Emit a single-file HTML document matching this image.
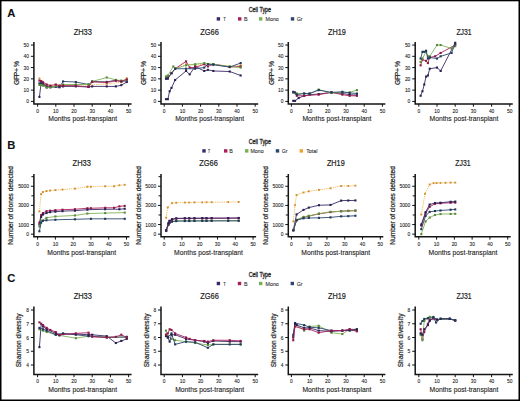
<!DOCTYPE html><html><head><meta charset="utf-8"><style>html,body{margin:0;padding:0;background:#fff;width:520px;height:401px;overflow:hidden}svg{display:block}</style></head><body>
<svg width="520" height="401" viewBox="0 0 520 401" font-family='"Liberation Sans", sans-serif'><style>text{stroke:#222;stroke-width:0.1px}</style>
<rect x="0" y="0" width="520" height="401" fill="#fff"/>
<g shape-rendering="crispEdges"><rect x="0" y="0" width="520" height="1" fill="#000"/><rect x="0" y="1" width="520" height="1" fill="#000" fill-opacity="0.3"/><rect x="0" y="0" width="1" height="401" fill="#000"/><rect x="1" y="0" width="1" height="401" fill="#000" fill-opacity="0.5"/><rect x="519" y="0" width="1" height="401" fill="#000"/><rect x="518" y="0" width="1" height="401" fill="#000" fill-opacity="0.5"/><rect x="0" y="400" width="520" height="1" fill="#000"/><rect x="0" y="399" width="520" height="1" fill="#000" fill-opacity="0.5"/></g>
<text x="7.3" y="16.6" font-size="11.2" fill="#111" font-weight="bold">A</text>
<text x="7.3" y="148.8" font-size="11.2" fill="#111" font-weight="bold">B</text>
<text x="7.3" y="282.4" font-size="11.2" fill="#111" font-weight="bold">C</text>
<text style="stroke-width:0.3px" x="259.9" y="12.1" font-size="6.6" fill="#222" text-anchor="middle" textLength="22.5" lengthAdjust="spacingAndGlyphs">Cell Type</text>
<rect x="216.7" y="17.2" width="3.4" height="3.4" fill="#3a2a68"/>
<text style="stroke-width:0.1px" x="223.3" y="21.1" font-size="6.2" fill="#333" textLength="2.6" lengthAdjust="spacingAndGlyphs">T</text>
<rect x="238" y="17.2" width="3.4" height="3.4" fill="#a8205a"/>
<text style="stroke-width:0.1px" x="244" y="21.1" font-size="6.2" fill="#333" textLength="3.6" lengthAdjust="spacingAndGlyphs">B</text>
<rect x="259" y="17.2" width="3.4" height="3.4" fill="#78b050"/>
<text style="stroke-width:0.1px" x="265.6" y="21.1" font-size="6.2" fill="#333" textLength="13.2" lengthAdjust="spacingAndGlyphs">Mono</text>
<rect x="290.8" y="17.2" width="3.4" height="3.4" fill="#2c4670"/>
<text style="stroke-width:0.1px" x="296.8" y="21.1" font-size="6.2" fill="#333" textLength="5.8" lengthAdjust="spacingAndGlyphs">Gr</text>
<text style="stroke-width:0.3px" x="259.9" y="143.8" font-size="6.6" fill="#222" text-anchor="middle" textLength="22.5" lengthAdjust="spacingAndGlyphs">Cell Type</text>
<rect x="202.3" y="149.2" width="3.4" height="3.4" fill="#3a2a68"/>
<text style="stroke-width:0.1px" x="207.8" y="153.1" font-size="6.2" fill="#333" textLength="2.6" lengthAdjust="spacingAndGlyphs">T</text>
<rect x="224" y="149.2" width="3.4" height="3.4" fill="#a8205a"/>
<text style="stroke-width:0.1px" x="229.2" y="153.1" font-size="6.2" fill="#333" textLength="3.6" lengthAdjust="spacingAndGlyphs">B</text>
<rect x="245" y="149.2" width="3.4" height="3.4" fill="#78b050"/>
<text style="stroke-width:0.1px" x="250.4" y="153.1" font-size="6.2" fill="#333" textLength="13.2" lengthAdjust="spacingAndGlyphs">Mono</text>
<rect x="275.8" y="149.2" width="3.4" height="3.4" fill="#2c4670"/>
<text style="stroke-width:0.1px" x="281.8" y="153.1" font-size="6.2" fill="#333" textLength="5.8" lengthAdjust="spacingAndGlyphs">Gr</text>
<rect x="299.6" y="149.2" width="3.4" height="3.4" fill="#f0a030"/>
<text style="stroke-width:0.1px" x="306.2" y="153.1" font-size="6.2" fill="#333" textLength="11.3" lengthAdjust="spacingAndGlyphs">Total</text>
<text style="stroke-width:0.3px" x="259.9" y="277" font-size="6.6" fill="#222" text-anchor="middle" textLength="22.5" lengthAdjust="spacingAndGlyphs">Cell Type</text>
<rect x="216.7" y="281.8" width="3.4" height="3.4" fill="#3a2a68"/>
<text style="stroke-width:0.1px" x="223.3" y="285.7" font-size="6.2" fill="#333" textLength="2.6" lengthAdjust="spacingAndGlyphs">T</text>
<rect x="237.8" y="281.8" width="3.4" height="3.4" fill="#a8205a"/>
<text style="stroke-width:0.1px" x="244" y="285.7" font-size="6.2" fill="#333" textLength="3.6" lengthAdjust="spacingAndGlyphs">B</text>
<rect x="259" y="281.8" width="3.4" height="3.4" fill="#78b050"/>
<text style="stroke-width:0.1px" x="265.6" y="285.7" font-size="6.2" fill="#333" textLength="13.2" lengthAdjust="spacingAndGlyphs">Mono</text>
<rect x="290.6" y="281.8" width="3.4" height="3.4" fill="#2c4670"/>
<text style="stroke-width:0.1px" x="296.8" y="285.7" font-size="6.2" fill="#333" textLength="5.8" lengthAdjust="spacingAndGlyphs">Gr</text>
<path d="M33.9 42V103.9H131.6" fill="none" stroke="#151515" stroke-width="1.5"/><path d="M30.9 101.4H33.9" stroke="#111" stroke-width="1"/><text transform="translate(29 103.4) scale(0.8 1)" font-size="6.1" fill="#222" text-anchor="end">0</text><path d="M30.9 90.13H33.9" stroke="#111" stroke-width="1"/><text transform="translate(29 92.13) scale(0.8 1)" font-size="6.1" fill="#222" text-anchor="end">10</text><path d="M30.9 78.86H33.9" stroke="#111" stroke-width="1"/><text transform="translate(29 80.86) scale(0.8 1)" font-size="6.1" fill="#222" text-anchor="end">20</text><path d="M30.9 67.59H33.9" stroke="#111" stroke-width="1"/><text transform="translate(29 69.59) scale(0.8 1)" font-size="6.1" fill="#222" text-anchor="end">30</text><path d="M30.9 56.32H33.9" stroke="#111" stroke-width="1"/><text transform="translate(29 58.32) scale(0.8 1)" font-size="6.1" fill="#222" text-anchor="end">40</text><path d="M30.9 45.05H33.9" stroke="#111" stroke-width="1"/><text transform="translate(29 47.05) scale(0.8 1)" font-size="6.1" fill="#222" text-anchor="end">50</text><path d="M37.6 103.9V106.7" stroke="#111" stroke-width="1"/><text transform="translate(37.6 113.3) scale(0.8 1)" font-size="6.1" fill="#222" text-anchor="middle">0</text><path d="M55.8 103.9V106.7" stroke="#111" stroke-width="1"/><text transform="translate(55.8 113.3) scale(0.8 1)" font-size="6.1" fill="#222" text-anchor="middle">10</text><path d="M74 103.9V106.7" stroke="#111" stroke-width="1"/><text transform="translate(74 113.3) scale(0.8 1)" font-size="6.1" fill="#222" text-anchor="middle">20</text><path d="M92.2 103.9V106.7" stroke="#111" stroke-width="1"/><text transform="translate(92.2 113.3) scale(0.8 1)" font-size="6.1" fill="#222" text-anchor="middle">30</text><path d="M110.4 103.9V106.7" stroke="#111" stroke-width="1"/><text transform="translate(110.4 113.3) scale(0.8 1)" font-size="6.1" fill="#222" text-anchor="middle">40</text><path d="M128.6 103.9V106.7" stroke="#111" stroke-width="1"/><text transform="translate(128.6 113.3) scale(0.8 1)" font-size="6.1" fill="#222" text-anchor="middle">50</text><text style="stroke-width:0.2px" x="82.75" y="34.9" font-size="8.6" fill="#1a1a1a" text-anchor="middle" textLength="18.2" lengthAdjust="spacingAndGlyphs">ZH33</text><text style="stroke-width:0.12px" transform="translate(82.76 121) scale(0.9 1)" font-size="7.5" fill="#222" text-anchor="middle" letter-spacing="0.017">Months post-transplant</text><text style="stroke-width:0.22px" transform="translate(19 72.95) rotate(-90) translate(-0.20 0) scale(0.92 1)" font-size="7.4" fill="#222" text-anchor="middle" letter-spacing="-0.438">GFP+ %</text><path d="M39.42 78.41 L41.24 81.11 L43.06 83.37 L46.7 85.06 L55.8 85.06 L75.82 84.72 L88.56 85.06 L106.76 83.93 L121.32 82.24 L126.78 78.18" fill="none" stroke="#f2b850" stroke-width="0.9" stroke-linejoin="round" stroke-dasharray="1.3 0.9"/><rect x="38.47" y="77.46" width="1.9" height="1.9" fill="#d09030"/><rect x="40.29" y="80.16" width="1.9" height="1.9" fill="#d09030"/><rect x="42.11" y="82.42" width="1.9" height="1.9" fill="#d09030"/><rect x="45.75" y="84.11" width="1.9" height="1.9" fill="#d09030"/><rect x="54.85" y="84.11" width="1.9" height="1.9" fill="#d09030"/><rect x="74.87" y="83.77" width="1.9" height="1.9" fill="#d09030"/><rect x="87.61" y="84.11" width="1.9" height="1.9" fill="#d09030"/><rect x="105.81" y="82.98" width="1.9" height="1.9" fill="#d09030"/><rect x="120.37" y="81.29" width="1.9" height="1.9" fill="#d09030"/><rect x="125.83" y="77.23" width="1.9" height="1.9" fill="#d09030"/><path d="M39.42 96.89 L41.24 82.24 L43.06 83.37 L46.7 86.75 L50.34 86.75 L55.8 86.75 L59.44 86.75 L63.08 86.41 L75.82 86.41 L88.56 86.97 L92.2 86.41 L106.76 86.41 L115.86 86.41 L121.32 85.17 L126.78 82.02" fill="none" stroke="#3a2a68" stroke-width="0.9" stroke-linejoin="round"/><rect x="38.37" y="95.84" width="2.1" height="2.1" fill="#2a1e50"/><rect x="40.19" y="81.19" width="2.1" height="2.1" fill="#2a1e50"/><rect x="42.01" y="82.32" width="2.1" height="2.1" fill="#2a1e50"/><rect x="45.65" y="85.7" width="2.1" height="2.1" fill="#2a1e50"/><rect x="49.29" y="85.7" width="2.1" height="2.1" fill="#2a1e50"/><rect x="54.75" y="85.7" width="2.1" height="2.1" fill="#2a1e50"/><rect x="58.39" y="85.7" width="2.1" height="2.1" fill="#2a1e50"/><rect x="62.03" y="85.36" width="2.1" height="2.1" fill="#2a1e50"/><rect x="74.77" y="85.36" width="2.1" height="2.1" fill="#2a1e50"/><rect x="87.51" y="85.92" width="2.1" height="2.1" fill="#2a1e50"/><rect x="91.15" y="85.36" width="2.1" height="2.1" fill="#2a1e50"/><rect x="105.71" y="85.36" width="2.1" height="2.1" fill="#2a1e50"/><rect x="114.81" y="85.36" width="2.1" height="2.1" fill="#2a1e50"/><rect x="120.27" y="84.12" width="2.1" height="2.1" fill="#2a1e50"/><rect x="125.73" y="80.97" width="2.1" height="2.1" fill="#2a1e50"/><path d="M39.42 83.37 L41.24 82.8 L43.06 84.5 L46.7 87.31 L50.34 87.31 L55.8 86.75 L59.44 87.31 L63.08 81.45 L75.82 82.02 L88.56 84.5 L92.2 81.45 L106.76 81.9 L115.86 80.21 L121.32 81.45 L126.78 80.78" fill="none" stroke="#2c4670" stroke-width="0.9" stroke-linejoin="round"/><rect x="38.37" y="82.32" width="2.1" height="2.1" fill="#203858"/><rect x="40.19" y="81.75" width="2.1" height="2.1" fill="#203858"/><rect x="42.01" y="83.45" width="2.1" height="2.1" fill="#203858"/><rect x="45.65" y="86.26" width="2.1" height="2.1" fill="#203858"/><rect x="49.29" y="86.26" width="2.1" height="2.1" fill="#203858"/><rect x="54.75" y="85.7" width="2.1" height="2.1" fill="#203858"/><rect x="58.39" y="86.26" width="2.1" height="2.1" fill="#203858"/><rect x="62.03" y="80.4" width="2.1" height="2.1" fill="#203858"/><rect x="74.77" y="80.97" width="2.1" height="2.1" fill="#203858"/><rect x="87.51" y="83.45" width="2.1" height="2.1" fill="#203858"/><rect x="91.15" y="80.4" width="2.1" height="2.1" fill="#203858"/><rect x="105.71" y="80.85" width="2.1" height="2.1" fill="#203858"/><rect x="114.81" y="79.16" width="2.1" height="2.1" fill="#203858"/><rect x="120.27" y="80.4" width="2.1" height="2.1" fill="#203858"/><rect x="125.73" y="79.73" width="2.1" height="2.1" fill="#203858"/><path d="M39.42 84.95 L41.24 85.06 L43.06 85.62 L46.7 87.65 L50.34 87.31 L55.8 86.19 L63.08 84.5 L75.82 84.5 L88.56 84.5 L92.2 81.45 L106.76 77.51 L115.86 79.87 L121.32 80.55 L126.78 79.99" fill="none" stroke="#80b458" stroke-width="0.9" stroke-linejoin="round"/><rect x="38.37" y="83.9" width="2.1" height="2.1" fill="#5a8a3a"/><rect x="40.19" y="84.01" width="2.1" height="2.1" fill="#5a8a3a"/><rect x="42.01" y="84.57" width="2.1" height="2.1" fill="#5a8a3a"/><rect x="45.65" y="86.6" width="2.1" height="2.1" fill="#5a8a3a"/><rect x="49.29" y="86.26" width="2.1" height="2.1" fill="#5a8a3a"/><rect x="54.75" y="85.14" width="2.1" height="2.1" fill="#5a8a3a"/><rect x="62.03" y="83.45" width="2.1" height="2.1" fill="#5a8a3a"/><rect x="74.77" y="83.45" width="2.1" height="2.1" fill="#5a8a3a"/><rect x="87.51" y="83.45" width="2.1" height="2.1" fill="#5a8a3a"/><rect x="91.15" y="80.4" width="2.1" height="2.1" fill="#5a8a3a"/><rect x="105.71" y="76.46" width="2.1" height="2.1" fill="#5a8a3a"/><rect x="114.81" y="78.82" width="2.1" height="2.1" fill="#5a8a3a"/><rect x="120.27" y="79.5" width="2.1" height="2.1" fill="#5a8a3a"/><rect x="125.73" y="78.94" width="2.1" height="2.1" fill="#5a8a3a"/><path d="M39.42 80.55 L41.24 81.11 L43.06 82.24 L46.7 84.5 L50.34 85.62 L55.8 84.5 L59.44 85.62 L63.08 85.62 L75.82 85.62 L88.56 86.97 L92.2 81.9 L106.76 82.47 L115.86 80.78 L121.32 81.34 L126.78 79.42" fill="none" stroke="#a8205a" stroke-width="0.9" stroke-linejoin="round"/><rect x="38.37" y="79.5" width="2.1" height="2.1" fill="#8a1848"/><rect x="40.19" y="80.06" width="2.1" height="2.1" fill="#8a1848"/><rect x="42.01" y="81.19" width="2.1" height="2.1" fill="#8a1848"/><rect x="45.65" y="83.45" width="2.1" height="2.1" fill="#8a1848"/><rect x="49.29" y="84.57" width="2.1" height="2.1" fill="#8a1848"/><rect x="54.75" y="83.45" width="2.1" height="2.1" fill="#8a1848"/><rect x="58.39" y="84.57" width="2.1" height="2.1" fill="#8a1848"/><rect x="62.03" y="84.57" width="2.1" height="2.1" fill="#8a1848"/><rect x="74.77" y="84.57" width="2.1" height="2.1" fill="#8a1848"/><rect x="87.51" y="85.92" width="2.1" height="2.1" fill="#8a1848"/><rect x="91.15" y="80.85" width="2.1" height="2.1" fill="#8a1848"/><rect x="105.71" y="81.42" width="2.1" height="2.1" fill="#8a1848"/><rect x="114.81" y="79.73" width="2.1" height="2.1" fill="#8a1848"/><rect x="120.27" y="80.29" width="2.1" height="2.1" fill="#8a1848"/><rect x="125.73" y="78.37" width="2.1" height="2.1" fill="#8a1848"/>
<path d="M161 42V103.9H258.2" fill="none" stroke="#151515" stroke-width="1.5"/><path d="M158 101.4H161" stroke="#111" stroke-width="1"/><text transform="translate(156.1 103.4) scale(0.8 1)" font-size="6.1" fill="#222" text-anchor="end">0</text><path d="M158 90.13H161" stroke="#111" stroke-width="1"/><text transform="translate(156.1 92.13) scale(0.8 1)" font-size="6.1" fill="#222" text-anchor="end">10</text><path d="M158 78.86H161" stroke="#111" stroke-width="1"/><text transform="translate(156.1 80.86) scale(0.8 1)" font-size="6.1" fill="#222" text-anchor="end">20</text><path d="M158 67.59H161" stroke="#111" stroke-width="1"/><text transform="translate(156.1 69.59) scale(0.8 1)" font-size="6.1" fill="#222" text-anchor="end">30</text><path d="M158 56.32H161" stroke="#111" stroke-width="1"/><text transform="translate(156.1 58.32) scale(0.8 1)" font-size="6.1" fill="#222" text-anchor="end">40</text><path d="M158 45.05H161" stroke="#111" stroke-width="1"/><text transform="translate(156.1 47.05) scale(0.8 1)" font-size="6.1" fill="#222" text-anchor="end">50</text><path d="M164.2 103.9V106.7" stroke="#111" stroke-width="1"/><text transform="translate(164.2 113.3) scale(0.8 1)" font-size="6.1" fill="#222" text-anchor="middle">0</text><path d="M182.4 103.9V106.7" stroke="#111" stroke-width="1"/><text transform="translate(182.4 113.3) scale(0.8 1)" font-size="6.1" fill="#222" text-anchor="middle">10</text><path d="M200.6 103.9V106.7" stroke="#111" stroke-width="1"/><text transform="translate(200.6 113.3) scale(0.8 1)" font-size="6.1" fill="#222" text-anchor="middle">20</text><path d="M218.8 103.9V106.7" stroke="#111" stroke-width="1"/><text transform="translate(218.8 113.3) scale(0.8 1)" font-size="6.1" fill="#222" text-anchor="middle">30</text><path d="M237 103.9V106.7" stroke="#111" stroke-width="1"/><text transform="translate(237 113.3) scale(0.8 1)" font-size="6.1" fill="#222" text-anchor="middle">40</text><path d="M255.2 103.9V106.7" stroke="#111" stroke-width="1"/><text transform="translate(255.2 113.3) scale(0.8 1)" font-size="6.1" fill="#222" text-anchor="middle">50</text><text style="stroke-width:0.2px" x="209.6" y="34.9" font-size="8.6" fill="#1a1a1a" text-anchor="middle" textLength="18.6" lengthAdjust="spacingAndGlyphs">ZG66</text><text style="stroke-width:0.12px" transform="translate(209.61 121) scale(0.9 1)" font-size="7.5" fill="#222" text-anchor="middle" letter-spacing="0.017">Months post-transplant</text><text style="stroke-width:0.22px" transform="translate(146.4 72.95) rotate(-90) translate(-0.20 0) scale(0.92 1)" font-size="7.4" fill="#222" text-anchor="middle" letter-spacing="-0.438">GFP+ %</text><path d="M166.02 76.61 L167.84 77.73 L171.48 73.23 L175.12 68.72 L186.04 64.21 L195.14 65.34 L204.24 64.21 L213.34 64.21 L229.72 66.46 L240.64 65.34" fill="none" stroke="#f2b850" stroke-width="0.9" stroke-linejoin="round" stroke-dasharray="1.3 0.9"/><rect x="165.07" y="75.66" width="1.9" height="1.9" fill="#d09030"/><rect x="166.89" y="76.78" width="1.9" height="1.9" fill="#d09030"/><rect x="170.53" y="72.28" width="1.9" height="1.9" fill="#d09030"/><rect x="174.17" y="67.77" width="1.9" height="1.9" fill="#d09030"/><rect x="185.09" y="63.26" width="1.9" height="1.9" fill="#d09030"/><rect x="194.19" y="64.39" width="1.9" height="1.9" fill="#d09030"/><rect x="203.29" y="63.26" width="1.9" height="1.9" fill="#d09030"/><rect x="212.39" y="63.26" width="1.9" height="1.9" fill="#d09030"/><rect x="228.77" y="65.51" width="1.9" height="1.9" fill="#d09030"/><rect x="239.69" y="64.39" width="1.9" height="1.9" fill="#d09030"/><path d="M166.02 99.15 L167.84 99.15 L169.66 91.26 L171.48 87.88 L175.12 79.99 L186.04 70.97 L189.68 74.35 L195.14 66.46 L204.24 70.97 L207.88 69.84 L213.34 70.97 L229.72 71.53 L240.64 75.48" fill="none" stroke="#3a2a68" stroke-width="0.9" stroke-linejoin="round"/><rect x="164.97" y="98.1" width="2.1" height="2.1" fill="#2a1e50"/><rect x="166.79" y="98.1" width="2.1" height="2.1" fill="#2a1e50"/><rect x="168.61" y="90.21" width="2.1" height="2.1" fill="#2a1e50"/><rect x="170.43" y="86.83" width="2.1" height="2.1" fill="#2a1e50"/><rect x="174.07" y="78.94" width="2.1" height="2.1" fill="#2a1e50"/><rect x="184.99" y="69.92" width="2.1" height="2.1" fill="#2a1e50"/><rect x="188.63" y="73.3" width="2.1" height="2.1" fill="#2a1e50"/><rect x="194.09" y="65.41" width="2.1" height="2.1" fill="#2a1e50"/><rect x="203.19" y="69.92" width="2.1" height="2.1" fill="#2a1e50"/><rect x="206.83" y="68.79" width="2.1" height="2.1" fill="#2a1e50"/><rect x="212.29" y="69.92" width="2.1" height="2.1" fill="#2a1e50"/><rect x="228.67" y="70.48" width="2.1" height="2.1" fill="#2a1e50"/><rect x="239.59" y="74.43" width="2.1" height="2.1" fill="#2a1e50"/><path d="M166.02 77.73 L167.84 78.86 L171.48 73.23 L175.12 68.72 L186.04 61.39 L189.68 67.59 L195.14 67.59 L204.24 64.21 L207.88 66.46 L213.34 64.21 L229.72 67.03 L240.64 66.46" fill="none" stroke="#a8205a" stroke-width="0.9" stroke-linejoin="round"/><rect x="164.97" y="76.68" width="2.1" height="2.1" fill="#8a1848"/><rect x="166.79" y="77.81" width="2.1" height="2.1" fill="#8a1848"/><rect x="170.43" y="72.18" width="2.1" height="2.1" fill="#8a1848"/><rect x="174.07" y="67.67" width="2.1" height="2.1" fill="#8a1848"/><rect x="184.99" y="60.34" width="2.1" height="2.1" fill="#8a1848"/><rect x="188.63" y="66.54" width="2.1" height="2.1" fill="#8a1848"/><rect x="194.09" y="66.54" width="2.1" height="2.1" fill="#8a1848"/><rect x="203.19" y="63.16" width="2.1" height="2.1" fill="#8a1848"/><rect x="206.83" y="65.41" width="2.1" height="2.1" fill="#8a1848"/><rect x="212.29" y="63.16" width="2.1" height="2.1" fill="#8a1848"/><rect x="228.67" y="65.98" width="2.1" height="2.1" fill="#8a1848"/><rect x="239.59" y="65.41" width="2.1" height="2.1" fill="#8a1848"/><path d="M166.02 76.61 L167.84 75.48 L173.3 66.46 L175.12 68.72 L186.04 65.34 L195.14 64.21 L204.24 63.08 L213.34 64.21 L229.72 66.46 L240.64 67.59" fill="none" stroke="#80b458" stroke-width="0.9" stroke-linejoin="round"/><rect x="164.97" y="75.56" width="2.1" height="2.1" fill="#5a8a3a"/><rect x="166.79" y="74.43" width="2.1" height="2.1" fill="#5a8a3a"/><rect x="172.25" y="65.41" width="2.1" height="2.1" fill="#5a8a3a"/><rect x="174.07" y="67.67" width="2.1" height="2.1" fill="#5a8a3a"/><rect x="184.99" y="64.29" width="2.1" height="2.1" fill="#5a8a3a"/><rect x="194.09" y="63.16" width="2.1" height="2.1" fill="#5a8a3a"/><rect x="203.19" y="62.03" width="2.1" height="2.1" fill="#5a8a3a"/><rect x="212.29" y="63.16" width="2.1" height="2.1" fill="#5a8a3a"/><rect x="228.67" y="65.41" width="2.1" height="2.1" fill="#5a8a3a"/><rect x="239.59" y="66.54" width="2.1" height="2.1" fill="#5a8a3a"/><path d="M166.02 78.86 L167.84 77.73 L171.48 73.23 L175.12 68.72 L186.04 68.72 L195.14 68.72 L204.24 67.59 L207.88 64.21 L213.34 64.77 L229.72 67.03 L240.64 63.08" fill="none" stroke="#2c4670" stroke-width="0.9" stroke-linejoin="round"/><rect x="164.97" y="77.81" width="2.1" height="2.1" fill="#203858"/><rect x="166.79" y="76.68" width="2.1" height="2.1" fill="#203858"/><rect x="170.43" y="72.18" width="2.1" height="2.1" fill="#203858"/><rect x="174.07" y="67.67" width="2.1" height="2.1" fill="#203858"/><rect x="184.99" y="67.67" width="2.1" height="2.1" fill="#203858"/><rect x="194.09" y="67.67" width="2.1" height="2.1" fill="#203858"/><rect x="203.19" y="66.54" width="2.1" height="2.1" fill="#203858"/><rect x="206.83" y="63.16" width="2.1" height="2.1" fill="#203858"/><rect x="212.29" y="63.72" width="2.1" height="2.1" fill="#203858"/><rect x="228.67" y="65.98" width="2.1" height="2.1" fill="#203858"/><rect x="239.59" y="62.03" width="2.1" height="2.1" fill="#203858"/>
<path d="M288.3 42V103.9H385.4" fill="none" stroke="#151515" stroke-width="1.5"/><path d="M285.3 101.4H288.3" stroke="#111" stroke-width="1"/><text transform="translate(283.4 103.4) scale(0.8 1)" font-size="6.1" fill="#222" text-anchor="end">0</text><path d="M285.3 90.13H288.3" stroke="#111" stroke-width="1"/><text transform="translate(283.4 92.13) scale(0.8 1)" font-size="6.1" fill="#222" text-anchor="end">10</text><path d="M285.3 78.86H288.3" stroke="#111" stroke-width="1"/><text transform="translate(283.4 80.86) scale(0.8 1)" font-size="6.1" fill="#222" text-anchor="end">20</text><path d="M285.3 67.59H288.3" stroke="#111" stroke-width="1"/><text transform="translate(283.4 69.59) scale(0.8 1)" font-size="6.1" fill="#222" text-anchor="end">30</text><path d="M285.3 56.32H288.3" stroke="#111" stroke-width="1"/><text transform="translate(283.4 58.32) scale(0.8 1)" font-size="6.1" fill="#222" text-anchor="end">40</text><path d="M285.3 45.05H288.3" stroke="#111" stroke-width="1"/><text transform="translate(283.4 47.05) scale(0.8 1)" font-size="6.1" fill="#222" text-anchor="end">50</text><path d="M291.4 103.9V106.7" stroke="#111" stroke-width="1"/><text transform="translate(291.4 113.3) scale(0.8 1)" font-size="6.1" fill="#222" text-anchor="middle">0</text><path d="M309.6 103.9V106.7" stroke="#111" stroke-width="1"/><text transform="translate(309.6 113.3) scale(0.8 1)" font-size="6.1" fill="#222" text-anchor="middle">10</text><path d="M327.8 103.9V106.7" stroke="#111" stroke-width="1"/><text transform="translate(327.8 113.3) scale(0.8 1)" font-size="6.1" fill="#222" text-anchor="middle">20</text><path d="M346 103.9V106.7" stroke="#111" stroke-width="1"/><text transform="translate(346 113.3) scale(0.8 1)" font-size="6.1" fill="#222" text-anchor="middle">30</text><path d="M364.2 103.9V106.7" stroke="#111" stroke-width="1"/><text transform="translate(364.2 113.3) scale(0.8 1)" font-size="6.1" fill="#222" text-anchor="middle">40</text><path d="M382.4 103.9V106.7" stroke="#111" stroke-width="1"/><text transform="translate(382.4 113.3) scale(0.8 1)" font-size="6.1" fill="#222" text-anchor="middle">50</text><text style="stroke-width:0.2px" x="336.85" y="34.9" font-size="8.6" fill="#1a1a1a" text-anchor="middle" textLength="17.8" lengthAdjust="spacingAndGlyphs">ZH19</text><text style="stroke-width:0.12px" transform="translate(336.86 121) scale(0.9 1)" font-size="7.5" fill="#222" text-anchor="middle" letter-spacing="0.017">Months post-transplant</text><text style="stroke-width:0.22px" transform="translate(273.5 72.95) rotate(-90) translate(-0.20 0) scale(0.92 1)" font-size="7.4" fill="#222" text-anchor="middle" letter-spacing="-0.438">GFP+ %</text><path d="M293.22 100.84 L295.04 100.84 L298.68 98.02 L304.14 95.77 L309.6 94.64 L318.7 94.07 L331.44 92.38 L342.36 93.51 L349.64 94.64 L356.92 95.2" fill="none" stroke="#3a2a68" stroke-width="0.9" stroke-linejoin="round"/><rect x="292.17" y="99.79" width="2.1" height="2.1" fill="#2a1e50"/><rect x="293.99" y="99.79" width="2.1" height="2.1" fill="#2a1e50"/><rect x="297.63" y="96.97" width="2.1" height="2.1" fill="#2a1e50"/><rect x="303.09" y="94.72" width="2.1" height="2.1" fill="#2a1e50"/><rect x="308.55" y="93.59" width="2.1" height="2.1" fill="#2a1e50"/><rect x="317.65" y="93.02" width="2.1" height="2.1" fill="#2a1e50"/><rect x="330.39" y="91.33" width="2.1" height="2.1" fill="#2a1e50"/><rect x="341.31" y="92.46" width="2.1" height="2.1" fill="#2a1e50"/><rect x="348.59" y="93.59" width="2.1" height="2.1" fill="#2a1e50"/><rect x="355.87" y="94.15" width="2.1" height="2.1" fill="#2a1e50"/><path d="M293.22 92.38 L296.86 95.77 L304.14 95.77 L318.7 94.64 L331.44 92.38 L342.36 94.64 L349.64 95.77 L356.92 95.77" fill="none" stroke="#a8205a" stroke-width="0.9" stroke-linejoin="round"/><rect x="292.17" y="91.33" width="2.1" height="2.1" fill="#8a1848"/><rect x="295.81" y="94.72" width="2.1" height="2.1" fill="#8a1848"/><rect x="303.09" y="94.72" width="2.1" height="2.1" fill="#8a1848"/><rect x="317.65" y="93.59" width="2.1" height="2.1" fill="#8a1848"/><rect x="330.39" y="91.33" width="2.1" height="2.1" fill="#8a1848"/><rect x="341.31" y="93.59" width="2.1" height="2.1" fill="#8a1848"/><rect x="348.59" y="94.72" width="2.1" height="2.1" fill="#8a1848"/><rect x="355.87" y="94.72" width="2.1" height="2.1" fill="#8a1848"/><path d="M293.22 92.38 L296.86 93.51 L304.14 93.51 L309.6 93.51 L318.7 89.57 L331.44 92.95 L342.36 92.38 L349.64 92.38 L356.92 90.13" fill="none" stroke="#80b458" stroke-width="0.9" stroke-linejoin="round"/><rect x="292.17" y="91.33" width="2.1" height="2.1" fill="#5a8a3a"/><rect x="295.81" y="92.46" width="2.1" height="2.1" fill="#5a8a3a"/><rect x="303.09" y="92.46" width="2.1" height="2.1" fill="#5a8a3a"/><rect x="308.55" y="92.46" width="2.1" height="2.1" fill="#5a8a3a"/><rect x="317.65" y="88.52" width="2.1" height="2.1" fill="#5a8a3a"/><rect x="330.39" y="91.9" width="2.1" height="2.1" fill="#5a8a3a"/><rect x="341.31" y="91.33" width="2.1" height="2.1" fill="#5a8a3a"/><rect x="348.59" y="91.33" width="2.1" height="2.1" fill="#5a8a3a"/><rect x="355.87" y="89.08" width="2.1" height="2.1" fill="#5a8a3a"/><path d="M293.22 91.82 L295.04 92.38 L296.86 94.64 L304.14 93.51 L309.6 93.51 L318.7 90.13 L331.44 92.38 L342.36 91.82 L349.64 92.95 L356.92 93.51" fill="none" stroke="#2c4670" stroke-width="0.9" stroke-linejoin="round"/><rect x="292.17" y="90.77" width="2.1" height="2.1" fill="#203858"/><rect x="293.99" y="91.33" width="2.1" height="2.1" fill="#203858"/><rect x="295.81" y="93.59" width="2.1" height="2.1" fill="#203858"/><rect x="303.09" y="92.46" width="2.1" height="2.1" fill="#203858"/><rect x="308.55" y="92.46" width="2.1" height="2.1" fill="#203858"/><rect x="317.65" y="89.08" width="2.1" height="2.1" fill="#203858"/><rect x="330.39" y="91.33" width="2.1" height="2.1" fill="#203858"/><rect x="341.31" y="90.77" width="2.1" height="2.1" fill="#203858"/><rect x="348.59" y="91.9" width="2.1" height="2.1" fill="#203858"/><rect x="355.87" y="92.46" width="2.1" height="2.1" fill="#203858"/>
<path d="M415.2 42V103.9H512.8" fill="none" stroke="#151515" stroke-width="1.5"/><path d="M412.2 101.4H415.2" stroke="#111" stroke-width="1"/><text transform="translate(410.3 103.4) scale(0.8 1)" font-size="6.1" fill="#222" text-anchor="end">0</text><path d="M412.2 90.13H415.2" stroke="#111" stroke-width="1"/><text transform="translate(410.3 92.13) scale(0.8 1)" font-size="6.1" fill="#222" text-anchor="end">10</text><path d="M412.2 78.86H415.2" stroke="#111" stroke-width="1"/><text transform="translate(410.3 80.86) scale(0.8 1)" font-size="6.1" fill="#222" text-anchor="end">20</text><path d="M412.2 67.59H415.2" stroke="#111" stroke-width="1"/><text transform="translate(410.3 69.59) scale(0.8 1)" font-size="6.1" fill="#222" text-anchor="end">30</text><path d="M412.2 56.32H415.2" stroke="#111" stroke-width="1"/><text transform="translate(410.3 58.32) scale(0.8 1)" font-size="6.1" fill="#222" text-anchor="end">40</text><path d="M412.2 45.05H415.2" stroke="#111" stroke-width="1"/><text transform="translate(410.3 47.05) scale(0.8 1)" font-size="6.1" fill="#222" text-anchor="end">50</text><path d="M418.8 103.9V106.7" stroke="#111" stroke-width="1"/><text transform="translate(418.8 113.3) scale(0.8 1)" font-size="6.1" fill="#222" text-anchor="middle">0</text><path d="M437 103.9V106.7" stroke="#111" stroke-width="1"/><text transform="translate(437 113.3) scale(0.8 1)" font-size="6.1" fill="#222" text-anchor="middle">10</text><path d="M455.2 103.9V106.7" stroke="#111" stroke-width="1"/><text transform="translate(455.2 113.3) scale(0.8 1)" font-size="6.1" fill="#222" text-anchor="middle">20</text><path d="M473.4 103.9V106.7" stroke="#111" stroke-width="1"/><text transform="translate(473.4 113.3) scale(0.8 1)" font-size="6.1" fill="#222" text-anchor="middle">30</text><path d="M491.6 103.9V106.7" stroke="#111" stroke-width="1"/><text transform="translate(491.6 113.3) scale(0.8 1)" font-size="6.1" fill="#222" text-anchor="middle">40</text><path d="M509.8 103.9V106.7" stroke="#111" stroke-width="1"/><text transform="translate(509.8 113.3) scale(0.8 1)" font-size="6.1" fill="#222" text-anchor="middle">50</text><text style="stroke-width:0.2px" x="464" y="34.9" font-size="8.6" fill="#1a1a1a" text-anchor="middle" textLength="15.2" lengthAdjust="spacingAndGlyphs">ZJ31</text><text style="stroke-width:0.12px" transform="translate(464.01 121) scale(0.9 1)" font-size="7.5" fill="#222" text-anchor="middle" letter-spacing="0.017">Months post-transplant</text><text style="stroke-width:0.22px" transform="translate(400.4 72.95) rotate(-90) translate(-0.20 0) scale(0.92 1)" font-size="7.4" fill="#222" text-anchor="middle" letter-spacing="-0.438">GFP+ %</text><path d="M420.62 95.77 L422.44 91.26 L424.26 84.5 L426.08 76.61 L427.9 75.48 L429.72 68.72 L437 67.59 L440.64 70.97 L455.2 42.8" fill="none" stroke="#3a2a68" stroke-width="0.9" stroke-linejoin="round"/><rect x="419.57" y="94.72" width="2.1" height="2.1" fill="#2a1e50"/><rect x="421.39" y="90.21" width="2.1" height="2.1" fill="#2a1e50"/><rect x="423.21" y="83.45" width="2.1" height="2.1" fill="#2a1e50"/><rect x="425.03" y="75.56" width="2.1" height="2.1" fill="#2a1e50"/><rect x="426.85" y="74.43" width="2.1" height="2.1" fill="#2a1e50"/><rect x="428.67" y="67.67" width="2.1" height="2.1" fill="#2a1e50"/><rect x="435.95" y="66.54" width="2.1" height="2.1" fill="#2a1e50"/><rect x="439.59" y="69.92" width="2.1" height="2.1" fill="#2a1e50"/><rect x="454.15" y="41.75" width="2.1" height="2.1" fill="#2a1e50"/><path d="M420.62 65.34 L422.44 59.7 L426.08 60.83 L427.9 63.08 L429.72 57.45 L435.18 56.32 L440.64 52.94 L455.2 45.05" fill="none" stroke="#a8205a" stroke-width="0.9" stroke-linejoin="round"/><rect x="419.57" y="64.29" width="2.1" height="2.1" fill="#8a1848"/><rect x="421.39" y="58.65" width="2.1" height="2.1" fill="#8a1848"/><rect x="425.03" y="59.78" width="2.1" height="2.1" fill="#8a1848"/><rect x="426.85" y="62.03" width="2.1" height="2.1" fill="#8a1848"/><rect x="428.67" y="56.4" width="2.1" height="2.1" fill="#8a1848"/><rect x="434.13" y="55.27" width="2.1" height="2.1" fill="#8a1848"/><rect x="439.59" y="51.89" width="2.1" height="2.1" fill="#8a1848"/><rect x="454.15" y="44" width="2.1" height="2.1" fill="#8a1848"/><path d="M420.62 61.96 L422.44 58.57 L426.08 51.81 L427.9 56.32 L429.72 56.32 L437 45.05 L440.64 45.05 L451.56 48.43 L455.2 46.18" fill="none" stroke="#80b458" stroke-width="0.9" stroke-linejoin="round"/><rect x="419.57" y="60.91" width="2.1" height="2.1" fill="#5a8a3a"/><rect x="421.39" y="57.52" width="2.1" height="2.1" fill="#5a8a3a"/><rect x="425.03" y="50.76" width="2.1" height="2.1" fill="#5a8a3a"/><rect x="426.85" y="55.27" width="2.1" height="2.1" fill="#5a8a3a"/><rect x="428.67" y="55.27" width="2.1" height="2.1" fill="#5a8a3a"/><rect x="435.95" y="44" width="2.1" height="2.1" fill="#5a8a3a"/><rect x="439.59" y="44" width="2.1" height="2.1" fill="#5a8a3a"/><rect x="450.51" y="47.38" width="2.1" height="2.1" fill="#5a8a3a"/><rect x="454.15" y="45.13" width="2.1" height="2.1" fill="#5a8a3a"/><path d="M420.62 58.57 L422.44 51.81 L424.26 51.81 L426.08 50.69 L427.9 58.57 L429.72 57.45 L437 58.57 L440.64 56.32 L451.56 52.94 L455.2 43.92" fill="none" stroke="#2c4670" stroke-width="0.9" stroke-linejoin="round"/><rect x="419.57" y="57.52" width="2.1" height="2.1" fill="#203858"/><rect x="421.39" y="50.76" width="2.1" height="2.1" fill="#203858"/><rect x="423.21" y="50.76" width="2.1" height="2.1" fill="#203858"/><rect x="425.03" y="49.64" width="2.1" height="2.1" fill="#203858"/><rect x="426.85" y="57.52" width="2.1" height="2.1" fill="#203858"/><rect x="428.67" y="56.4" width="2.1" height="2.1" fill="#203858"/><rect x="435.95" y="57.52" width="2.1" height="2.1" fill="#203858"/><rect x="439.59" y="55.27" width="2.1" height="2.1" fill="#203858"/><rect x="450.51" y="51.89" width="2.1" height="2.1" fill="#203858"/><rect x="454.15" y="42.87" width="2.1" height="2.1" fill="#203858"/>
<path d="M33.9 174V236.8H129.5" fill="none" stroke="#151515" stroke-width="1.5"/><path d="M30.9 234.15H33.9" stroke="#111" stroke-width="1"/><text transform="translate(29 236.15) scale(0.8 1)" font-size="6.1" fill="#222" text-anchor="end">0</text><path d="M30.9 224.57H33.9" stroke="#111" stroke-width="1"/><text transform="translate(29 226.57) scale(0.8 1)" font-size="6.1" fill="#222" text-anchor="end">1000</text><path d="M30.9 205.41H33.9" stroke="#111" stroke-width="1"/><text transform="translate(29 207.41) scale(0.8 1)" font-size="6.1" fill="#222" text-anchor="end">3000</text><path d="M30.9 186.25H33.9" stroke="#111" stroke-width="1"/><text transform="translate(29 188.25) scale(0.8 1)" font-size="6.1" fill="#222" text-anchor="end">5000</text><path d="M31.4 214.99H33.9" stroke="#111" stroke-width="1"/><path d="M31.4 195.83H33.9" stroke="#111" stroke-width="1"/><path d="M31.4 176.67H33.9" stroke="#111" stroke-width="1"/><path d="M37.6 236.8V239.6" stroke="#111" stroke-width="1"/><text transform="translate(37.6 246) scale(0.8 1)" font-size="6.1" fill="#222" text-anchor="middle">0</text><path d="M55.38 236.8V239.6" stroke="#111" stroke-width="1"/><text transform="translate(55.38 246) scale(0.8 1)" font-size="6.1" fill="#222" text-anchor="middle">10</text><path d="M73.16 236.8V239.6" stroke="#111" stroke-width="1"/><text transform="translate(73.16 246) scale(0.8 1)" font-size="6.1" fill="#222" text-anchor="middle">20</text><path d="M90.94 236.8V239.6" stroke="#111" stroke-width="1"/><text transform="translate(90.94 246) scale(0.8 1)" font-size="6.1" fill="#222" text-anchor="middle">30</text><path d="M108.72 236.8V239.6" stroke="#111" stroke-width="1"/><text transform="translate(108.72 246) scale(0.8 1)" font-size="6.1" fill="#222" text-anchor="middle">40</text><path d="M126.5 236.8V239.6" stroke="#111" stroke-width="1"/><text transform="translate(126.5 246) scale(0.8 1)" font-size="6.1" fill="#222" text-anchor="middle">50</text><text style="stroke-width:0.2px" x="81.7" y="165.8" font-size="8.6" fill="#1a1a1a" text-anchor="middle" textLength="18.2" lengthAdjust="spacingAndGlyphs">ZH33</text><text style="stroke-width:0.12px" transform="translate(81.71 255) scale(0.9 1)" font-size="7.5" fill="#222" text-anchor="middle" letter-spacing="0.017">Months post-transplant</text><text style="stroke-width:0.22px" transform="translate(13.2 205.4) rotate(-90) translate(-0.01 0) scale(0.92 1)" font-size="7.2" fill="#222" text-anchor="middle" letter-spacing="-0.016">Number of clones detected</text><path d="M39.38 211.45 L41.16 194.01 L42.93 192 L46.49 191.04 L50.05 190.56 L55.38 190.08 L62.49 189.6 L74.94 188.65 L87.38 186.73 L90.94 186.73 L105.16 186.25 L114.05 186.25 L119.39 185.29 L124.72 184.81" fill="none" stroke="#f2b850" stroke-width="0.9" stroke-linejoin="round" stroke-dasharray="1.3 0.9"/><rect x="38.43" y="210.5" width="1.9" height="1.9" fill="#d09030"/><rect x="40.21" y="193.06" width="1.9" height="1.9" fill="#d09030"/><rect x="41.98" y="191.05" width="1.9" height="1.9" fill="#d09030"/><rect x="45.54" y="190.09" width="1.9" height="1.9" fill="#d09030"/><rect x="49.1" y="189.61" width="1.9" height="1.9" fill="#d09030"/><rect x="54.43" y="189.13" width="1.9" height="1.9" fill="#d09030"/><rect x="61.54" y="188.65" width="1.9" height="1.9" fill="#d09030"/><rect x="73.99" y="187.7" width="1.9" height="1.9" fill="#d09030"/><rect x="86.43" y="185.78" width="1.9" height="1.9" fill="#d09030"/><rect x="89.99" y="185.78" width="1.9" height="1.9" fill="#d09030"/><rect x="104.21" y="185.3" width="1.9" height="1.9" fill="#d09030"/><rect x="113.1" y="185.3" width="1.9" height="1.9" fill="#d09030"/><rect x="118.44" y="184.34" width="1.9" height="1.9" fill="#d09030"/><rect x="123.77" y="183.86" width="1.9" height="1.9" fill="#d09030"/><path d="M39.38 222.65 L41.16 214.99 L42.93 213.07 L46.49 211.16 L50.05 210.68 L55.38 210.2 L62.49 209.72 L74.94 209.24 L87.38 208.28 L90.94 208.28 L105.16 207.81 L114.05 207.81 L119.39 206.37 L124.72 205.89" fill="none" stroke="#a8205a" stroke-width="0.9" stroke-linejoin="round"/><rect x="38.33" y="221.6" width="2.1" height="2.1" fill="#8a1848"/><rect x="40.11" y="213.94" width="2.1" height="2.1" fill="#8a1848"/><rect x="41.88" y="212.02" width="2.1" height="2.1" fill="#8a1848"/><rect x="45.44" y="210.11" width="2.1" height="2.1" fill="#8a1848"/><rect x="49" y="209.63" width="2.1" height="2.1" fill="#8a1848"/><rect x="54.33" y="209.15" width="2.1" height="2.1" fill="#8a1848"/><rect x="61.44" y="208.67" width="2.1" height="2.1" fill="#8a1848"/><rect x="73.89" y="208.19" width="2.1" height="2.1" fill="#8a1848"/><rect x="86.33" y="207.23" width="2.1" height="2.1" fill="#8a1848"/><rect x="89.89" y="207.23" width="2.1" height="2.1" fill="#8a1848"/><rect x="104.11" y="206.75" width="2.1" height="2.1" fill="#8a1848"/><rect x="113" y="206.75" width="2.1" height="2.1" fill="#8a1848"/><rect x="118.34" y="205.32" width="2.1" height="2.1" fill="#8a1848"/><rect x="123.67" y="204.84" width="2.1" height="2.1" fill="#8a1848"/><path d="M39.38 224.57 L41.16 216.91 L42.93 214.51 L46.49 213.07 L50.05 212.12 L55.38 211.64 L62.49 211.16 L74.94 210.68 L87.38 209.72 L105.16 209.24 L119.39 209.24 L124.72 208.76" fill="none" stroke="#3a2a68" stroke-width="0.9" stroke-linejoin="round"/><rect x="38.33" y="223.52" width="2.1" height="2.1" fill="#2a1e50"/><rect x="40.11" y="215.86" width="2.1" height="2.1" fill="#2a1e50"/><rect x="41.88" y="213.46" width="2.1" height="2.1" fill="#2a1e50"/><rect x="45.44" y="212.02" width="2.1" height="2.1" fill="#2a1e50"/><rect x="49" y="211.07" width="2.1" height="2.1" fill="#2a1e50"/><rect x="54.33" y="210.59" width="2.1" height="2.1" fill="#2a1e50"/><rect x="61.44" y="210.11" width="2.1" height="2.1" fill="#2a1e50"/><rect x="73.89" y="209.63" width="2.1" height="2.1" fill="#2a1e50"/><rect x="86.33" y="208.67" width="2.1" height="2.1" fill="#2a1e50"/><rect x="104.11" y="208.19" width="2.1" height="2.1" fill="#2a1e50"/><rect x="118.34" y="208.19" width="2.1" height="2.1" fill="#2a1e50"/><rect x="123.67" y="207.71" width="2.1" height="2.1" fill="#2a1e50"/><path d="M39.38 226.49 L41.16 220.74 L46.49 217.86 L55.38 216.43 L74.94 215.47 L87.38 213.55 L105.16 213.07 L124.72 212.59" fill="none" stroke="#80b458" stroke-width="0.9" stroke-linejoin="round"/><rect x="38.33" y="225.44" width="2.1" height="2.1" fill="#5a8a3a"/><rect x="40.11" y="219.69" width="2.1" height="2.1" fill="#5a8a3a"/><rect x="45.44" y="216.81" width="2.1" height="2.1" fill="#5a8a3a"/><rect x="54.33" y="215.38" width="2.1" height="2.1" fill="#5a8a3a"/><rect x="73.89" y="214.42" width="2.1" height="2.1" fill="#5a8a3a"/><rect x="86.33" y="212.5" width="2.1" height="2.1" fill="#5a8a3a"/><rect x="104.11" y="212.02" width="2.1" height="2.1" fill="#5a8a3a"/><rect x="123.67" y="211.54" width="2.1" height="2.1" fill="#5a8a3a"/><path d="M39.38 231.28 L41.16 222.65 L42.93 220.74 L46.49 220.26 L55.38 219.78 L74.94 219.3 L90.94 218.82 L105.16 218.82 L124.72 218.82" fill="none" stroke="#2c4670" stroke-width="0.9" stroke-linejoin="round"/><rect x="38.33" y="230.23" width="2.1" height="2.1" fill="#203858"/><rect x="40.11" y="221.6" width="2.1" height="2.1" fill="#203858"/><rect x="41.88" y="219.69" width="2.1" height="2.1" fill="#203858"/><rect x="45.44" y="219.21" width="2.1" height="2.1" fill="#203858"/><rect x="54.33" y="218.73" width="2.1" height="2.1" fill="#203858"/><rect x="73.89" y="218.25" width="2.1" height="2.1" fill="#203858"/><rect x="89.89" y="217.77" width="2.1" height="2.1" fill="#203858"/><rect x="104.11" y="217.77" width="2.1" height="2.1" fill="#203858"/><rect x="123.67" y="217.77" width="2.1" height="2.1" fill="#203858"/>
<path d="M161 174V236.8H256.1" fill="none" stroke="#151515" stroke-width="1.5"/><path d="M158 234.15H161" stroke="#111" stroke-width="1"/><text transform="translate(156.1 236.15) scale(0.8 1)" font-size="6.1" fill="#222" text-anchor="end">0</text><path d="M158 224.57H161" stroke="#111" stroke-width="1"/><text transform="translate(156.1 226.57) scale(0.8 1)" font-size="6.1" fill="#222" text-anchor="end">1000</text><path d="M158 205.41H161" stroke="#111" stroke-width="1"/><text transform="translate(156.1 207.41) scale(0.8 1)" font-size="6.1" fill="#222" text-anchor="end">3000</text><path d="M158 186.25H161" stroke="#111" stroke-width="1"/><text transform="translate(156.1 188.25) scale(0.8 1)" font-size="6.1" fill="#222" text-anchor="end">5000</text><path d="M158.5 214.99H161" stroke="#111" stroke-width="1"/><path d="M158.5 195.83H161" stroke="#111" stroke-width="1"/><path d="M158.5 176.67H161" stroke="#111" stroke-width="1"/><path d="M164.2 236.8V239.6" stroke="#111" stroke-width="1"/><text transform="translate(164.2 246) scale(0.8 1)" font-size="6.1" fill="#222" text-anchor="middle">0</text><path d="M181.98 236.8V239.6" stroke="#111" stroke-width="1"/><text transform="translate(181.98 246) scale(0.8 1)" font-size="6.1" fill="#222" text-anchor="middle">10</text><path d="M199.76 236.8V239.6" stroke="#111" stroke-width="1"/><text transform="translate(199.76 246) scale(0.8 1)" font-size="6.1" fill="#222" text-anchor="middle">20</text><path d="M217.54 236.8V239.6" stroke="#111" stroke-width="1"/><text transform="translate(217.54 246) scale(0.8 1)" font-size="6.1" fill="#222" text-anchor="middle">30</text><path d="M235.32 236.8V239.6" stroke="#111" stroke-width="1"/><text transform="translate(235.32 246) scale(0.8 1)" font-size="6.1" fill="#222" text-anchor="middle">40</text><path d="M253.1 236.8V239.6" stroke="#111" stroke-width="1"/><text transform="translate(253.1 246) scale(0.8 1)" font-size="6.1" fill="#222" text-anchor="middle">50</text><text style="stroke-width:0.2px" x="208.55" y="165.8" font-size="8.6" fill="#1a1a1a" text-anchor="middle" textLength="18.6" lengthAdjust="spacingAndGlyphs">ZG66</text><text style="stroke-width:0.12px" transform="translate(208.56 255) scale(0.9 1)" font-size="7.5" fill="#222" text-anchor="middle" letter-spacing="0.017">Months post-transplant</text><text style="stroke-width:0.22px" transform="translate(140.6 205.4) rotate(-90) translate(-0.01 0) scale(0.92 1)" font-size="7.2" fill="#222" text-anchor="middle" letter-spacing="-0.016">Number of clones detected</text><path d="M166.16 217.77 L167.76 207.42 L172.02 203.11 L176.29 202.73 L184.82 202.54 L189.27 202.54 L194.43 202.34 L202.25 202.34 L206.52 202.25 L211.67 202.25 L228.21 202.06 L238.7 201.96" fill="none" stroke="#f2b850" stroke-width="0.9" stroke-linejoin="round" stroke-dasharray="1.3 0.9"/><rect x="165.21" y="216.82" width="1.9" height="1.9" fill="#d09030"/><rect x="166.81" y="206.47" width="1.9" height="1.9" fill="#d09030"/><rect x="171.07" y="202.16" width="1.9" height="1.9" fill="#d09030"/><rect x="175.34" y="201.78" width="1.9" height="1.9" fill="#d09030"/><rect x="183.87" y="201.59" width="1.9" height="1.9" fill="#d09030"/><rect x="188.32" y="201.59" width="1.9" height="1.9" fill="#d09030"/><rect x="193.48" y="201.39" width="1.9" height="1.9" fill="#d09030"/><rect x="201.3" y="201.39" width="1.9" height="1.9" fill="#d09030"/><rect x="205.57" y="201.3" width="1.9" height="1.9" fill="#d09030"/><rect x="210.72" y="201.3" width="1.9" height="1.9" fill="#d09030"/><rect x="227.26" y="201.11" width="1.9" height="1.9" fill="#d09030"/><rect x="237.75" y="201.01" width="1.9" height="1.9" fill="#d09030"/><path d="M166.16 230.8 L168.47 224.57 L169.53 222.65 L172.02 221.41 L176.29 220.93 L184.82 220.83 L189.27 220.83 L194.43 220.83 L202.25 220.79 L206.52 220.79 L211.67 220.74 L228.21 220.74 L238.7 220.64" fill="none" stroke="#80b458" stroke-width="0.9" stroke-linejoin="round"/><rect x="165.11" y="229.75" width="2.1" height="2.1" fill="#5a8a3a"/><rect x="167.42" y="223.52" width="2.1" height="2.1" fill="#5a8a3a"/><rect x="168.48" y="221.6" width="2.1" height="2.1" fill="#5a8a3a"/><rect x="170.97" y="220.36" width="2.1" height="2.1" fill="#5a8a3a"/><rect x="175.24" y="219.88" width="2.1" height="2.1" fill="#5a8a3a"/><rect x="183.77" y="219.78" width="2.1" height="2.1" fill="#5a8a3a"/><rect x="188.22" y="219.78" width="2.1" height="2.1" fill="#5a8a3a"/><rect x="193.38" y="219.78" width="2.1" height="2.1" fill="#5a8a3a"/><rect x="201.2" y="219.74" width="2.1" height="2.1" fill="#5a8a3a"/><rect x="205.47" y="219.74" width="2.1" height="2.1" fill="#5a8a3a"/><rect x="210.62" y="219.69" width="2.1" height="2.1" fill="#5a8a3a"/><rect x="227.16" y="219.69" width="2.1" height="2.1" fill="#5a8a3a"/><rect x="237.65" y="219.59" width="2.1" height="2.1" fill="#5a8a3a"/><path d="M166.16 230.99 L168.47 224.76 L169.53 222.85 L172.02 221.6 L176.29 221.12 L184.82 221.03 L189.27 221.03 L194.43 220.98 L202.25 220.93 L206.52 220.93 L211.67 220.88 L228.21 220.83 L238.7 220.83" fill="none" stroke="#2c4670" stroke-width="0.9" stroke-linejoin="round"/><rect x="165.11" y="229.94" width="2.1" height="2.1" fill="#203858"/><rect x="167.42" y="223.71" width="2.1" height="2.1" fill="#203858"/><rect x="168.48" y="221.8" width="2.1" height="2.1" fill="#203858"/><rect x="170.97" y="220.55" width="2.1" height="2.1" fill="#203858"/><rect x="175.24" y="220.07" width="2.1" height="2.1" fill="#203858"/><rect x="183.77" y="219.98" width="2.1" height="2.1" fill="#203858"/><rect x="188.22" y="219.98" width="2.1" height="2.1" fill="#203858"/><rect x="193.38" y="219.93" width="2.1" height="2.1" fill="#203858"/><rect x="201.2" y="219.88" width="2.1" height="2.1" fill="#203858"/><rect x="205.47" y="219.88" width="2.1" height="2.1" fill="#203858"/><rect x="210.62" y="219.83" width="2.1" height="2.1" fill="#203858"/><rect x="227.16" y="219.78" width="2.1" height="2.1" fill="#203858"/><rect x="237.65" y="219.78" width="2.1" height="2.1" fill="#203858"/><path d="M166.16 230.32 L168.47 223.61 L169.53 221.22 L172.02 219.59 L176.29 218.63 L184.82 218.44 L189.27 218.44 L194.43 218.44 L202.25 218.34 L206.52 218.34 L211.67 218.3 L228.21 218.25 L238.7 218.15" fill="none" stroke="#a8205a" stroke-width="0.9" stroke-linejoin="round"/><rect x="165.11" y="229.27" width="2.1" height="2.1" fill="#8a1848"/><rect x="167.42" y="222.56" width="2.1" height="2.1" fill="#8a1848"/><rect x="168.48" y="220.17" width="2.1" height="2.1" fill="#8a1848"/><rect x="170.97" y="218.54" width="2.1" height="2.1" fill="#8a1848"/><rect x="175.24" y="217.58" width="2.1" height="2.1" fill="#8a1848"/><rect x="183.77" y="217.39" width="2.1" height="2.1" fill="#8a1848"/><rect x="188.22" y="217.39" width="2.1" height="2.1" fill="#8a1848"/><rect x="193.38" y="217.39" width="2.1" height="2.1" fill="#8a1848"/><rect x="201.2" y="217.29" width="2.1" height="2.1" fill="#8a1848"/><rect x="205.47" y="217.29" width="2.1" height="2.1" fill="#8a1848"/><rect x="210.62" y="217.25" width="2.1" height="2.1" fill="#8a1848"/><rect x="227.16" y="217.2" width="2.1" height="2.1" fill="#8a1848"/><rect x="237.65" y="217.1" width="2.1" height="2.1" fill="#8a1848"/><path d="M166.16 230.13 L168.47 223.13 L169.53 220.74 L172.02 219.21 L176.29 218.34 L184.82 218.25 L189.27 218.25 L194.43 218.2 L202.25 218.15 L206.52 218.15 L211.67 218.1 L228.21 218.06 L238.7 217.96" fill="none" stroke="#3a2a68" stroke-width="0.9" stroke-linejoin="round"/><rect x="165.11" y="229.08" width="2.1" height="2.1" fill="#2a1e50"/><rect x="167.42" y="222.08" width="2.1" height="2.1" fill="#2a1e50"/><rect x="168.48" y="219.69" width="2.1" height="2.1" fill="#2a1e50"/><rect x="170.97" y="218.16" width="2.1" height="2.1" fill="#2a1e50"/><rect x="175.24" y="217.29" width="2.1" height="2.1" fill="#2a1e50"/><rect x="183.77" y="217.2" width="2.1" height="2.1" fill="#2a1e50"/><rect x="188.22" y="217.2" width="2.1" height="2.1" fill="#2a1e50"/><rect x="193.38" y="217.15" width="2.1" height="2.1" fill="#2a1e50"/><rect x="201.2" y="217.1" width="2.1" height="2.1" fill="#2a1e50"/><rect x="205.47" y="217.1" width="2.1" height="2.1" fill="#2a1e50"/><rect x="210.62" y="217.05" width="2.1" height="2.1" fill="#2a1e50"/><rect x="227.16" y="217.01" width="2.1" height="2.1" fill="#2a1e50"/><rect x="237.65" y="216.91" width="2.1" height="2.1" fill="#2a1e50"/>
<path d="M288.3 174V236.8H383.3" fill="none" stroke="#151515" stroke-width="1.5"/><path d="M285.3 234.15H288.3" stroke="#111" stroke-width="1"/><text transform="translate(283.4 236.15) scale(0.8 1)" font-size="6.1" fill="#222" text-anchor="end">0</text><path d="M285.3 224.57H288.3" stroke="#111" stroke-width="1"/><text transform="translate(283.4 226.57) scale(0.8 1)" font-size="6.1" fill="#222" text-anchor="end">1000</text><path d="M285.3 205.41H288.3" stroke="#111" stroke-width="1"/><text transform="translate(283.4 207.41) scale(0.8 1)" font-size="6.1" fill="#222" text-anchor="end">3000</text><path d="M285.3 186.25H288.3" stroke="#111" stroke-width="1"/><text transform="translate(283.4 188.25) scale(0.8 1)" font-size="6.1" fill="#222" text-anchor="end">5000</text><path d="M285.8 214.99H288.3" stroke="#111" stroke-width="1"/><path d="M285.8 195.83H288.3" stroke="#111" stroke-width="1"/><path d="M285.8 176.67H288.3" stroke="#111" stroke-width="1"/><path d="M291.4 236.8V239.6" stroke="#111" stroke-width="1"/><text transform="translate(291.4 246) scale(0.8 1)" font-size="6.1" fill="#222" text-anchor="middle">0</text><path d="M309.18 236.8V239.6" stroke="#111" stroke-width="1"/><text transform="translate(309.18 246) scale(0.8 1)" font-size="6.1" fill="#222" text-anchor="middle">10</text><path d="M326.96 236.8V239.6" stroke="#111" stroke-width="1"/><text transform="translate(326.96 246) scale(0.8 1)" font-size="6.1" fill="#222" text-anchor="middle">20</text><path d="M344.74 236.8V239.6" stroke="#111" stroke-width="1"/><text transform="translate(344.74 246) scale(0.8 1)" font-size="6.1" fill="#222" text-anchor="middle">30</text><path d="M362.52 236.8V239.6" stroke="#111" stroke-width="1"/><text transform="translate(362.52 246) scale(0.8 1)" font-size="6.1" fill="#222" text-anchor="middle">40</text><path d="M380.3 236.8V239.6" stroke="#111" stroke-width="1"/><text transform="translate(380.3 246) scale(0.8 1)" font-size="6.1" fill="#222" text-anchor="middle">50</text><text style="stroke-width:0.2px" x="335.8" y="165.8" font-size="8.6" fill="#1a1a1a" text-anchor="middle" textLength="17.8" lengthAdjust="spacingAndGlyphs">ZH19</text><text style="stroke-width:0.12px" transform="translate(335.81 255) scale(0.9 1)" font-size="7.5" fill="#222" text-anchor="middle" letter-spacing="0.017">Months post-transplant</text><text style="stroke-width:0.22px" transform="translate(267.7 205.4) rotate(-90) translate(-0.01 0) scale(0.92 1)" font-size="7.2" fill="#222" text-anchor="middle" letter-spacing="-0.016">Number of clones detected</text><path d="M293.36 221.41 L294.96 205.22 L296.56 194.97 L303.49 192.48 L308.82 191.33 L318.96 189.89 L330.52 188.26 L341.18 185.96 L348.3 185.96 L355.41 185.68" fill="none" stroke="#f2b850" stroke-width="0.9" stroke-linejoin="round" stroke-dasharray="1.3 0.9"/><rect x="292.41" y="220.46" width="1.9" height="1.9" fill="#d09030"/><rect x="294.01" y="204.27" width="1.9" height="1.9" fill="#d09030"/><rect x="295.61" y="194.02" width="1.9" height="1.9" fill="#d09030"/><rect x="302.54" y="191.53" width="1.9" height="1.9" fill="#d09030"/><rect x="307.87" y="190.38" width="1.9" height="1.9" fill="#d09030"/><rect x="318.01" y="188.94" width="1.9" height="1.9" fill="#d09030"/><rect x="329.57" y="187.31" width="1.9" height="1.9" fill="#d09030"/><rect x="340.23" y="185.01" width="1.9" height="1.9" fill="#d09030"/><rect x="347.35" y="185.01" width="1.9" height="1.9" fill="#d09030"/><rect x="354.46" y="184.73" width="1.9" height="1.9" fill="#d09030"/><path d="M293.36 229.84 L296.56 214.42 L303.49 209.91 L308.82 207.61 L318.96 205.22 L330.52 204.93 L341.18 200.62 L348.3 200.52 L355.41 200.43" fill="none" stroke="#3a2a68" stroke-width="0.9" stroke-linejoin="round"/><rect x="292.31" y="228.79" width="2.1" height="2.1" fill="#2a1e50"/><rect x="295.51" y="213.37" width="2.1" height="2.1" fill="#2a1e50"/><rect x="302.44" y="208.86" width="2.1" height="2.1" fill="#2a1e50"/><rect x="307.77" y="206.56" width="2.1" height="2.1" fill="#2a1e50"/><rect x="317.91" y="204.17" width="2.1" height="2.1" fill="#2a1e50"/><rect x="329.47" y="203.88" width="2.1" height="2.1" fill="#2a1e50"/><rect x="340.13" y="199.57" width="2.1" height="2.1" fill="#2a1e50"/><rect x="347.25" y="199.47" width="2.1" height="2.1" fill="#2a1e50"/><rect x="354.36" y="199.38" width="2.1" height="2.1" fill="#2a1e50"/><path d="M293.36 230.13 L296.56 220.26 L303.49 217.38 L308.82 216.14 L318.96 213.84 L330.52 212.12 L341.18 211.16 L348.3 210.87 L355.41 210.58" fill="none" stroke="#a8205a" stroke-width="0.9" stroke-linejoin="round"/><rect x="292.31" y="229.08" width="2.1" height="2.1" fill="#8a1848"/><rect x="295.51" y="219.21" width="2.1" height="2.1" fill="#8a1848"/><rect x="302.44" y="216.33" width="2.1" height="2.1" fill="#8a1848"/><rect x="307.77" y="215.09" width="2.1" height="2.1" fill="#8a1848"/><rect x="317.91" y="212.79" width="2.1" height="2.1" fill="#8a1848"/><rect x="329.47" y="211.07" width="2.1" height="2.1" fill="#8a1848"/><rect x="340.13" y="210.11" width="2.1" height="2.1" fill="#8a1848"/><rect x="347.25" y="209.82" width="2.1" height="2.1" fill="#8a1848"/><rect x="354.36" y="209.53" width="2.1" height="2.1" fill="#8a1848"/><path d="M293.36 230.32 L296.56 219.78 L303.49 216.91 L308.82 215.76 L318.96 213.65 L330.52 211.83 L341.18 211.35 L348.3 210.97 L355.41 210.58" fill="none" stroke="#80b458" stroke-width="0.9" stroke-linejoin="round"/><rect x="292.31" y="229.27" width="2.1" height="2.1" fill="#5a8a3a"/><rect x="295.51" y="218.73" width="2.1" height="2.1" fill="#5a8a3a"/><rect x="302.44" y="215.86" width="2.1" height="2.1" fill="#5a8a3a"/><rect x="307.77" y="214.71" width="2.1" height="2.1" fill="#5a8a3a"/><rect x="317.91" y="212.6" width="2.1" height="2.1" fill="#5a8a3a"/><rect x="329.47" y="210.78" width="2.1" height="2.1" fill="#5a8a3a"/><rect x="340.13" y="210.3" width="2.1" height="2.1" fill="#5a8a3a"/><rect x="347.25" y="209.92" width="2.1" height="2.1" fill="#5a8a3a"/><rect x="354.36" y="209.53" width="2.1" height="2.1" fill="#5a8a3a"/><path d="M293.36 230.51 L296.56 220.26 L303.49 218.34 L308.82 217.96 L318.96 217.86 L330.52 217.38 L341.18 216.33 L348.3 216.14 L355.41 215.76" fill="none" stroke="#2c4670" stroke-width="0.9" stroke-linejoin="round"/><rect x="292.31" y="229.46" width="2.1" height="2.1" fill="#203858"/><rect x="295.51" y="219.21" width="2.1" height="2.1" fill="#203858"/><rect x="302.44" y="217.29" width="2.1" height="2.1" fill="#203858"/><rect x="307.77" y="216.91" width="2.1" height="2.1" fill="#203858"/><rect x="317.91" y="216.81" width="2.1" height="2.1" fill="#203858"/><rect x="329.47" y="216.33" width="2.1" height="2.1" fill="#203858"/><rect x="340.13" y="215.28" width="2.1" height="2.1" fill="#203858"/><rect x="347.25" y="215.09" width="2.1" height="2.1" fill="#203858"/><rect x="354.36" y="214.71" width="2.1" height="2.1" fill="#203858"/>
<path d="M415.2 174V236.8H510.7" fill="none" stroke="#151515" stroke-width="1.5"/><path d="M412.2 234.15H415.2" stroke="#111" stroke-width="1"/><text transform="translate(410.3 236.15) scale(0.8 1)" font-size="6.1" fill="#222" text-anchor="end">0</text><path d="M412.2 224.57H415.2" stroke="#111" stroke-width="1"/><text transform="translate(410.3 226.57) scale(0.8 1)" font-size="6.1" fill="#222" text-anchor="end">1000</text><path d="M412.2 205.41H415.2" stroke="#111" stroke-width="1"/><text transform="translate(410.3 207.41) scale(0.8 1)" font-size="6.1" fill="#222" text-anchor="end">3000</text><path d="M412.2 186.25H415.2" stroke="#111" stroke-width="1"/><text transform="translate(410.3 188.25) scale(0.8 1)" font-size="6.1" fill="#222" text-anchor="end">5000</text><path d="M412.7 214.99H415.2" stroke="#111" stroke-width="1"/><path d="M412.7 195.83H415.2" stroke="#111" stroke-width="1"/><path d="M412.7 176.67H415.2" stroke="#111" stroke-width="1"/><path d="M418.8 236.8V239.6" stroke="#111" stroke-width="1"/><text transform="translate(418.8 246) scale(0.8 1)" font-size="6.1" fill="#222" text-anchor="middle">0</text><path d="M436.58 236.8V239.6" stroke="#111" stroke-width="1"/><text transform="translate(436.58 246) scale(0.8 1)" font-size="6.1" fill="#222" text-anchor="middle">10</text><path d="M454.36 236.8V239.6" stroke="#111" stroke-width="1"/><text transform="translate(454.36 246) scale(0.8 1)" font-size="6.1" fill="#222" text-anchor="middle">20</text><path d="M472.14 236.8V239.6" stroke="#111" stroke-width="1"/><text transform="translate(472.14 246) scale(0.8 1)" font-size="6.1" fill="#222" text-anchor="middle">30</text><path d="M489.92 236.8V239.6" stroke="#111" stroke-width="1"/><text transform="translate(489.92 246) scale(0.8 1)" font-size="6.1" fill="#222" text-anchor="middle">40</text><path d="M507.7 236.8V239.6" stroke="#111" stroke-width="1"/><text transform="translate(507.7 246) scale(0.8 1)" font-size="6.1" fill="#222" text-anchor="middle">50</text><text style="stroke-width:0.2px" x="462.95" y="165.8" font-size="8.6" fill="#1a1a1a" text-anchor="middle" textLength="15.2" lengthAdjust="spacingAndGlyphs">ZJ31</text><text style="stroke-width:0.12px" transform="translate(462.96 255) scale(0.9 1)" font-size="7.5" fill="#222" text-anchor="middle" letter-spacing="0.017">Months post-transplant</text><text style="stroke-width:0.22px" transform="translate(394.6 205.4) rotate(-90) translate(-0.01 0) scale(0.92 1)" font-size="7.2" fill="#222" text-anchor="middle" letter-spacing="-0.016">Number of clones detected</text><path d="M421.29 214.51 L425.02 193.72 L429.65 184.53 L433.56 183.18 L436.58 182.99 L440.49 182.9 L445.47 182.8 L450.63 182.61 L455.25 182.61" fill="none" stroke="#f2b850" stroke-width="0.9" stroke-linejoin="round" stroke-dasharray="1.3 0.9"/><rect x="420.34" y="213.56" width="1.9" height="1.9" fill="#d09030"/><rect x="424.07" y="192.77" width="1.9" height="1.9" fill="#d09030"/><rect x="428.7" y="183.58" width="1.9" height="1.9" fill="#d09030"/><rect x="432.61" y="182.23" width="1.9" height="1.9" fill="#d09030"/><rect x="435.63" y="182.04" width="1.9" height="1.9" fill="#d09030"/><rect x="439.54" y="181.95" width="1.9" height="1.9" fill="#d09030"/><rect x="444.52" y="181.85" width="1.9" height="1.9" fill="#d09030"/><rect x="449.68" y="181.66" width="1.9" height="1.9" fill="#d09030"/><rect x="454.3" y="181.66" width="1.9" height="1.9" fill="#d09030"/><path d="M421.29 234.15 L425.56 221.41 L429.65 217.58 L434.98 214.99 L440.49 214.03 L450.63 213.94 L455.25 213.84" fill="none" stroke="#80b458" stroke-width="0.9" stroke-linejoin="round"/><rect x="420.24" y="233.1" width="2.1" height="2.1" fill="#5a8a3a"/><rect x="424.51" y="220.36" width="2.1" height="2.1" fill="#5a8a3a"/><rect x="428.6" y="216.53" width="2.1" height="2.1" fill="#5a8a3a"/><rect x="433.93" y="213.94" width="2.1" height="2.1" fill="#5a8a3a"/><rect x="439.44" y="212.98" width="2.1" height="2.1" fill="#5a8a3a"/><rect x="449.58" y="212.89" width="2.1" height="2.1" fill="#5a8a3a"/><rect x="454.2" y="212.79" width="2.1" height="2.1" fill="#5a8a3a"/><path d="M421.29 229.17 L425.56 215.95 L429.65 211.83 L434.98 211.06 L440.49 210.49 L450.63 209.72 L455.25 209.43" fill="none" stroke="#2c4670" stroke-width="0.9" stroke-linejoin="round"/><rect x="420.24" y="228.12" width="2.1" height="2.1" fill="#203858"/><rect x="424.51" y="214.9" width="2.1" height="2.1" fill="#203858"/><rect x="428.6" y="210.78" width="2.1" height="2.1" fill="#203858"/><rect x="433.93" y="210.01" width="2.1" height="2.1" fill="#203858"/><rect x="439.44" y="209.44" width="2.1" height="2.1" fill="#203858"/><rect x="449.58" y="208.67" width="2.1" height="2.1" fill="#203858"/><rect x="454.2" y="208.38" width="2.1" height="2.1" fill="#203858"/><path d="M421.29 225.53 L425.56 213.55 L429.65 206.85 L434.98 203.78 L440.49 203.3 L450.63 202.73 L455.25 202.63" fill="none" stroke="#a8205a" stroke-width="0.9" stroke-linejoin="round"/><rect x="420.24" y="224.48" width="2.1" height="2.1" fill="#8a1848"/><rect x="424.51" y="212.5" width="2.1" height="2.1" fill="#8a1848"/><rect x="428.6" y="205.8" width="2.1" height="2.1" fill="#8a1848"/><rect x="433.93" y="202.73" width="2.1" height="2.1" fill="#8a1848"/><rect x="439.44" y="202.25" width="2.1" height="2.1" fill="#8a1848"/><rect x="449.58" y="201.68" width="2.1" height="2.1" fill="#8a1848"/><rect x="454.2" y="201.58" width="2.1" height="2.1" fill="#8a1848"/><path d="M421.29 224.47 L425.56 212.21 L429.65 204.55 L434.98 203.02 L440.49 202.73 L450.63 201.77 L455.25 201.58" fill="none" stroke="#3a2a68" stroke-width="0.9" stroke-linejoin="round"/><rect x="420.24" y="223.42" width="2.1" height="2.1" fill="#2a1e50"/><rect x="424.51" y="211.16" width="2.1" height="2.1" fill="#2a1e50"/><rect x="428.6" y="203.5" width="2.1" height="2.1" fill="#2a1e50"/><rect x="433.93" y="201.97" width="2.1" height="2.1" fill="#2a1e50"/><rect x="439.44" y="201.68" width="2.1" height="2.1" fill="#2a1e50"/><rect x="449.58" y="200.72" width="2.1" height="2.1" fill="#2a1e50"/><rect x="454.2" y="200.53" width="2.1" height="2.1" fill="#2a1e50"/>
<path d="M33.9 306.5V374.4H131.6" fill="none" stroke="#151515" stroke-width="1.5"/><path d="M30.9 365H33.9" stroke="#111" stroke-width="1"/><text transform="translate(29 367) scale(0.8 1)" font-size="6.1" fill="#222" text-anchor="end">4</text><path d="M30.9 351.25H33.9" stroke="#111" stroke-width="1"/><text transform="translate(29 353.25) scale(0.8 1)" font-size="6.1" fill="#222" text-anchor="end">5</text><path d="M30.9 337.5H33.9" stroke="#111" stroke-width="1"/><text transform="translate(29 339.5) scale(0.8 1)" font-size="6.1" fill="#222" text-anchor="end">6</text><path d="M30.9 323.75H33.9" stroke="#111" stroke-width="1"/><text transform="translate(29 325.75) scale(0.8 1)" font-size="6.1" fill="#222" text-anchor="end">7</text><path d="M30.9 310H33.9" stroke="#111" stroke-width="1"/><text transform="translate(29 312) scale(0.8 1)" font-size="6.1" fill="#222" text-anchor="end">8</text><path d="M37.6 374.4V377.2" stroke="#111" stroke-width="1"/><text transform="translate(37.6 383) scale(0.8 1)" font-size="6.1" fill="#222" text-anchor="middle">0</text><path d="M55.8 374.4V377.2" stroke="#111" stroke-width="1"/><text transform="translate(55.8 383) scale(0.8 1)" font-size="6.1" fill="#222" text-anchor="middle">10</text><path d="M74 374.4V377.2" stroke="#111" stroke-width="1"/><text transform="translate(74 383) scale(0.8 1)" font-size="6.1" fill="#222" text-anchor="middle">20</text><path d="M92.2 374.4V377.2" stroke="#111" stroke-width="1"/><text transform="translate(92.2 383) scale(0.8 1)" font-size="6.1" fill="#222" text-anchor="middle">30</text><path d="M110.4 374.4V377.2" stroke="#111" stroke-width="1"/><text transform="translate(110.4 383) scale(0.8 1)" font-size="6.1" fill="#222" text-anchor="middle">40</text><path d="M128.6 374.4V377.2" stroke="#111" stroke-width="1"/><text transform="translate(128.6 383) scale(0.8 1)" font-size="6.1" fill="#222" text-anchor="middle">50</text><text style="stroke-width:0.2px" x="82.75" y="299.2" font-size="8.6" fill="#1a1a1a" text-anchor="middle" textLength="18.2" lengthAdjust="spacingAndGlyphs">ZH33</text><text style="stroke-width:0.12px" transform="translate(82.76 391.6) scale(0.9 1)" font-size="7.5" fill="#222" text-anchor="middle" letter-spacing="0.017">Months post-transplant</text><text style="stroke-width:0.22px" transform="translate(21.1 340.45) rotate(-90) translate(0.04 0) scale(0.92 1)" font-size="7.2" fill="#222" text-anchor="middle" letter-spacing="0.086">Shannon diversity</text><path d="M39.42 329.25 L43.06 330.62 L46.7 332 L55.8 334.75 L75.82 338.19 L88.56 336.12 L106.76 336.81 L126.78 337.5" fill="none" stroke="#80b458" stroke-width="0.9" stroke-linejoin="round"/><rect x="38.37" y="328.2" width="2.1" height="2.1" fill="#5a8a3a"/><rect x="42.01" y="329.57" width="2.1" height="2.1" fill="#5a8a3a"/><rect x="45.65" y="330.95" width="2.1" height="2.1" fill="#5a8a3a"/><rect x="54.75" y="333.7" width="2.1" height="2.1" fill="#5a8a3a"/><rect x="74.77" y="337.14" width="2.1" height="2.1" fill="#5a8a3a"/><rect x="87.51" y="335.07" width="2.1" height="2.1" fill="#5a8a3a"/><rect x="105.71" y="335.76" width="2.1" height="2.1" fill="#5a8a3a"/><rect x="125.73" y="336.45" width="2.1" height="2.1" fill="#5a8a3a"/><path d="M39.42 327.88 L43.06 329.25 L46.7 330.62 L55.8 334.75 L63.08 333.38 L75.82 334.75 L88.56 336.12 L106.76 337.5 L126.78 336.81" fill="none" stroke="#2c4670" stroke-width="0.9" stroke-linejoin="round"/><rect x="38.37" y="326.82" width="2.1" height="2.1" fill="#203858"/><rect x="42.01" y="328.2" width="2.1" height="2.1" fill="#203858"/><rect x="45.65" y="329.57" width="2.1" height="2.1" fill="#203858"/><rect x="54.75" y="333.7" width="2.1" height="2.1" fill="#203858"/><rect x="62.03" y="332.32" width="2.1" height="2.1" fill="#203858"/><rect x="74.77" y="333.7" width="2.1" height="2.1" fill="#203858"/><rect x="87.51" y="335.07" width="2.1" height="2.1" fill="#203858"/><rect x="105.71" y="336.45" width="2.1" height="2.1" fill="#203858"/><rect x="125.73" y="335.76" width="2.1" height="2.1" fill="#203858"/><path d="M39.42 347.12 L41.24 323.75 L43.06 326.5 L46.7 329.25 L55.8 333.38 L59.44 335.44 L63.08 334.06 L75.82 334.06 L88.56 334.75 L92.2 334.75 L106.76 336.12 L115.86 343 L121.32 340.94 L126.78 338.88" fill="none" stroke="#3a2a68" stroke-width="0.9" stroke-linejoin="round"/><rect x="38.37" y="346.07" width="2.1" height="2.1" fill="#2a1e50"/><rect x="40.19" y="322.7" width="2.1" height="2.1" fill="#2a1e50"/><rect x="42.01" y="325.45" width="2.1" height="2.1" fill="#2a1e50"/><rect x="45.65" y="328.2" width="2.1" height="2.1" fill="#2a1e50"/><rect x="54.75" y="332.32" width="2.1" height="2.1" fill="#2a1e50"/><rect x="58.39" y="334.39" width="2.1" height="2.1" fill="#2a1e50"/><rect x="62.03" y="333.01" width="2.1" height="2.1" fill="#2a1e50"/><rect x="74.77" y="333.01" width="2.1" height="2.1" fill="#2a1e50"/><rect x="87.51" y="333.7" width="2.1" height="2.1" fill="#2a1e50"/><rect x="91.15" y="333.7" width="2.1" height="2.1" fill="#2a1e50"/><rect x="105.71" y="335.07" width="2.1" height="2.1" fill="#2a1e50"/><rect x="114.81" y="341.95" width="2.1" height="2.1" fill="#2a1e50"/><rect x="120.27" y="339.89" width="2.1" height="2.1" fill="#2a1e50"/><rect x="125.73" y="337.82" width="2.1" height="2.1" fill="#2a1e50"/><path d="M39.42 322.38 L43.06 325.12 L46.7 327.88 L50.34 329.94 L55.8 332 L59.44 334.75 L75.82 333.38 L88.56 332.69 L92.2 336.81 L106.76 337.5 L115.86 336.81 L121.32 334.75 L126.78 337.5" fill="none" stroke="#a8205a" stroke-width="0.9" stroke-linejoin="round"/><rect x="38.37" y="321.32" width="2.1" height="2.1" fill="#8a1848"/><rect x="42.01" y="324.07" width="2.1" height="2.1" fill="#8a1848"/><rect x="45.65" y="326.82" width="2.1" height="2.1" fill="#8a1848"/><rect x="49.29" y="328.89" width="2.1" height="2.1" fill="#8a1848"/><rect x="54.75" y="330.95" width="2.1" height="2.1" fill="#8a1848"/><rect x="58.39" y="333.7" width="2.1" height="2.1" fill="#8a1848"/><rect x="74.77" y="332.32" width="2.1" height="2.1" fill="#8a1848"/><rect x="87.51" y="331.64" width="2.1" height="2.1" fill="#8a1848"/><rect x="91.15" y="335.76" width="2.1" height="2.1" fill="#8a1848"/><rect x="105.71" y="336.45" width="2.1" height="2.1" fill="#8a1848"/><rect x="114.81" y="335.76" width="2.1" height="2.1" fill="#8a1848"/><rect x="120.27" y="333.7" width="2.1" height="2.1" fill="#8a1848"/><rect x="125.73" y="336.45" width="2.1" height="2.1" fill="#8a1848"/>
<path d="M161 306.5V374.4H258.2" fill="none" stroke="#151515" stroke-width="1.5"/><path d="M158 365H161" stroke="#111" stroke-width="1"/><text transform="translate(156.1 367) scale(0.8 1)" font-size="6.1" fill="#222" text-anchor="end">4</text><path d="M158 351.25H161" stroke="#111" stroke-width="1"/><text transform="translate(156.1 353.25) scale(0.8 1)" font-size="6.1" fill="#222" text-anchor="end">5</text><path d="M158 337.5H161" stroke="#111" stroke-width="1"/><text transform="translate(156.1 339.5) scale(0.8 1)" font-size="6.1" fill="#222" text-anchor="end">6</text><path d="M158 323.75H161" stroke="#111" stroke-width="1"/><text transform="translate(156.1 325.75) scale(0.8 1)" font-size="6.1" fill="#222" text-anchor="end">7</text><path d="M158 310H161" stroke="#111" stroke-width="1"/><text transform="translate(156.1 312) scale(0.8 1)" font-size="6.1" fill="#222" text-anchor="end">8</text><path d="M164.2 374.4V377.2" stroke="#111" stroke-width="1"/><text transform="translate(164.2 383) scale(0.8 1)" font-size="6.1" fill="#222" text-anchor="middle">0</text><path d="M182.4 374.4V377.2" stroke="#111" stroke-width="1"/><text transform="translate(182.4 383) scale(0.8 1)" font-size="6.1" fill="#222" text-anchor="middle">10</text><path d="M200.6 374.4V377.2" stroke="#111" stroke-width="1"/><text transform="translate(200.6 383) scale(0.8 1)" font-size="6.1" fill="#222" text-anchor="middle">20</text><path d="M218.8 374.4V377.2" stroke="#111" stroke-width="1"/><text transform="translate(218.8 383) scale(0.8 1)" font-size="6.1" fill="#222" text-anchor="middle">30</text><path d="M237 374.4V377.2" stroke="#111" stroke-width="1"/><text transform="translate(237 383) scale(0.8 1)" font-size="6.1" fill="#222" text-anchor="middle">40</text><path d="M255.2 374.4V377.2" stroke="#111" stroke-width="1"/><text transform="translate(255.2 383) scale(0.8 1)" font-size="6.1" fill="#222" text-anchor="middle">50</text><text style="stroke-width:0.2px" x="209.6" y="299.2" font-size="8.6" fill="#1a1a1a" text-anchor="middle" textLength="18.6" lengthAdjust="spacingAndGlyphs">ZG66</text><text style="stroke-width:0.12px" transform="translate(209.61 391.6) scale(0.9 1)" font-size="7.5" fill="#222" text-anchor="middle" letter-spacing="0.017">Months post-transplant</text><text style="stroke-width:0.22px" transform="translate(148.5 340.45) rotate(-90) translate(0.04 0) scale(0.92 1)" font-size="7.2" fill="#222" text-anchor="middle" letter-spacing="0.086">Shannon diversity</text><path d="M166.02 330.62 L167.84 336.12 L171.48 338.88 L175.12 340.25 L186.04 341.62 L195.14 343 L207.88 345.06 L213.34 344.38 L240.64 344.38" fill="none" stroke="#80b458" stroke-width="0.9" stroke-linejoin="round"/><rect x="164.97" y="329.57" width="2.1" height="2.1" fill="#5a8a3a"/><rect x="166.79" y="335.07" width="2.1" height="2.1" fill="#5a8a3a"/><rect x="170.43" y="337.82" width="2.1" height="2.1" fill="#5a8a3a"/><rect x="174.07" y="339.2" width="2.1" height="2.1" fill="#5a8a3a"/><rect x="184.99" y="340.57" width="2.1" height="2.1" fill="#5a8a3a"/><rect x="194.09" y="341.95" width="2.1" height="2.1" fill="#5a8a3a"/><rect x="206.83" y="344.01" width="2.1" height="2.1" fill="#5a8a3a"/><rect x="212.29" y="343.32" width="2.1" height="2.1" fill="#5a8a3a"/><rect x="239.59" y="343.32" width="2.1" height="2.1" fill="#5a8a3a"/><path d="M166.02 334.75 L167.84 337.5 L171.48 333.38 L175.12 344.38 L186.04 341.62 L195.14 342.31 L207.88 347.81 L213.34 344.38 L229.72 344.38 L240.64 344.38" fill="none" stroke="#2c4670" stroke-width="0.9" stroke-linejoin="round"/><rect x="164.97" y="333.7" width="2.1" height="2.1" fill="#203858"/><rect x="166.79" y="336.45" width="2.1" height="2.1" fill="#203858"/><rect x="170.43" y="332.32" width="2.1" height="2.1" fill="#203858"/><rect x="174.07" y="343.32" width="2.1" height="2.1" fill="#203858"/><rect x="184.99" y="340.57" width="2.1" height="2.1" fill="#203858"/><rect x="194.09" y="341.26" width="2.1" height="2.1" fill="#203858"/><rect x="206.83" y="346.76" width="2.1" height="2.1" fill="#203858"/><rect x="212.29" y="343.32" width="2.1" height="2.1" fill="#203858"/><rect x="228.67" y="343.32" width="2.1" height="2.1" fill="#203858"/><rect x="239.59" y="343.32" width="2.1" height="2.1" fill="#203858"/><path d="M166.02 336.12 L167.84 337.5 L169.66 341.62 L171.48 334.75 L175.12 334.75 L186.04 338.88 L195.14 340.25 L204.24 341.62 L207.88 343 L213.34 340.94 L229.72 341.62 L240.64 341.62" fill="none" stroke="#3a2a68" stroke-width="0.9" stroke-linejoin="round"/><rect x="164.97" y="335.07" width="2.1" height="2.1" fill="#2a1e50"/><rect x="166.79" y="336.45" width="2.1" height="2.1" fill="#2a1e50"/><rect x="168.61" y="340.57" width="2.1" height="2.1" fill="#2a1e50"/><rect x="170.43" y="333.7" width="2.1" height="2.1" fill="#2a1e50"/><rect x="174.07" y="333.7" width="2.1" height="2.1" fill="#2a1e50"/><rect x="184.99" y="337.82" width="2.1" height="2.1" fill="#2a1e50"/><rect x="194.09" y="339.2" width="2.1" height="2.1" fill="#2a1e50"/><rect x="203.19" y="340.57" width="2.1" height="2.1" fill="#2a1e50"/><rect x="206.83" y="341.95" width="2.1" height="2.1" fill="#2a1e50"/><rect x="212.29" y="339.89" width="2.1" height="2.1" fill="#2a1e50"/><rect x="228.67" y="340.57" width="2.1" height="2.1" fill="#2a1e50"/><rect x="239.59" y="340.57" width="2.1" height="2.1" fill="#2a1e50"/><path d="M166.02 334.75 L167.84 333.38 L169.66 329.25 L171.48 329.94 L175.12 333.38 L186.04 337.5 L189.68 338.88 L195.14 340.25 L204.24 340.94 L207.88 341.62 L213.34 340.25 L229.72 340.25 L240.64 340.94" fill="none" stroke="#a8205a" stroke-width="0.9" stroke-linejoin="round"/><rect x="164.97" y="333.7" width="2.1" height="2.1" fill="#8a1848"/><rect x="166.79" y="332.32" width="2.1" height="2.1" fill="#8a1848"/><rect x="168.61" y="328.2" width="2.1" height="2.1" fill="#8a1848"/><rect x="170.43" y="328.89" width="2.1" height="2.1" fill="#8a1848"/><rect x="174.07" y="332.32" width="2.1" height="2.1" fill="#8a1848"/><rect x="184.99" y="336.45" width="2.1" height="2.1" fill="#8a1848"/><rect x="188.63" y="337.82" width="2.1" height="2.1" fill="#8a1848"/><rect x="194.09" y="339.2" width="2.1" height="2.1" fill="#8a1848"/><rect x="203.19" y="339.89" width="2.1" height="2.1" fill="#8a1848"/><rect x="206.83" y="340.57" width="2.1" height="2.1" fill="#8a1848"/><rect x="212.29" y="339.2" width="2.1" height="2.1" fill="#8a1848"/><rect x="228.67" y="339.2" width="2.1" height="2.1" fill="#8a1848"/><rect x="239.59" y="339.89" width="2.1" height="2.1" fill="#8a1848"/>
<path d="M288.3 306.5V374.4H385.4" fill="none" stroke="#151515" stroke-width="1.5"/><path d="M285.3 365H288.3" stroke="#111" stroke-width="1"/><text transform="translate(283.4 367) scale(0.8 1)" font-size="6.1" fill="#222" text-anchor="end">4</text><path d="M285.3 351.25H288.3" stroke="#111" stroke-width="1"/><text transform="translate(283.4 353.25) scale(0.8 1)" font-size="6.1" fill="#222" text-anchor="end">5</text><path d="M285.3 337.5H288.3" stroke="#111" stroke-width="1"/><text transform="translate(283.4 339.5) scale(0.8 1)" font-size="6.1" fill="#222" text-anchor="end">6</text><path d="M285.3 323.75H288.3" stroke="#111" stroke-width="1"/><text transform="translate(283.4 325.75) scale(0.8 1)" font-size="6.1" fill="#222" text-anchor="end">7</text><path d="M285.3 310H288.3" stroke="#111" stroke-width="1"/><text transform="translate(283.4 312) scale(0.8 1)" font-size="6.1" fill="#222" text-anchor="end">8</text><path d="M291.4 374.4V377.2" stroke="#111" stroke-width="1"/><text transform="translate(291.4 383) scale(0.8 1)" font-size="6.1" fill="#222" text-anchor="middle">0</text><path d="M309.6 374.4V377.2" stroke="#111" stroke-width="1"/><text transform="translate(309.6 383) scale(0.8 1)" font-size="6.1" fill="#222" text-anchor="middle">10</text><path d="M327.8 374.4V377.2" stroke="#111" stroke-width="1"/><text transform="translate(327.8 383) scale(0.8 1)" font-size="6.1" fill="#222" text-anchor="middle">20</text><path d="M346 374.4V377.2" stroke="#111" stroke-width="1"/><text transform="translate(346 383) scale(0.8 1)" font-size="6.1" fill="#222" text-anchor="middle">30</text><path d="M364.2 374.4V377.2" stroke="#111" stroke-width="1"/><text transform="translate(364.2 383) scale(0.8 1)" font-size="6.1" fill="#222" text-anchor="middle">40</text><path d="M382.4 374.4V377.2" stroke="#111" stroke-width="1"/><text transform="translate(382.4 383) scale(0.8 1)" font-size="6.1" fill="#222" text-anchor="middle">50</text><text style="stroke-width:0.2px" x="336.85" y="299.2" font-size="8.6" fill="#1a1a1a" text-anchor="middle" textLength="17.8" lengthAdjust="spacingAndGlyphs">ZH19</text><text style="stroke-width:0.12px" transform="translate(336.86 391.6) scale(0.9 1)" font-size="7.5" fill="#222" text-anchor="middle" letter-spacing="0.017">Months post-transplant</text><text style="stroke-width:0.22px" transform="translate(275.6 340.45) rotate(-90) translate(0.04 0) scale(0.92 1)" font-size="7.2" fill="#222" text-anchor="middle" letter-spacing="0.086">Shannon diversity</text><path d="M293.22 336.12 L295.04 323.75 L304.14 330.62 L309.6 326.5 L318.7 325.81 L331.44 332.69 L342.36 334.06 L349.64 329.25 L356.92 329.25" fill="none" stroke="#80b458" stroke-width="0.9" stroke-linejoin="round"/><rect x="292.17" y="335.07" width="2.1" height="2.1" fill="#5a8a3a"/><rect x="293.99" y="322.7" width="2.1" height="2.1" fill="#5a8a3a"/><rect x="303.09" y="329.57" width="2.1" height="2.1" fill="#5a8a3a"/><rect x="308.55" y="325.45" width="2.1" height="2.1" fill="#5a8a3a"/><rect x="317.65" y="324.76" width="2.1" height="2.1" fill="#5a8a3a"/><rect x="330.39" y="331.64" width="2.1" height="2.1" fill="#5a8a3a"/><rect x="341.31" y="333.01" width="2.1" height="2.1" fill="#5a8a3a"/><rect x="348.59" y="328.2" width="2.1" height="2.1" fill="#5a8a3a"/><rect x="355.87" y="328.2" width="2.1" height="2.1" fill="#5a8a3a"/><path d="M293.22 334.75 L295.04 323.06 L304.14 325.12 L309.6 327.19 L318.7 327.88 L331.44 330.62 L342.36 330.62 L349.64 330.62 L356.92 330.62" fill="none" stroke="#2c4670" stroke-width="0.9" stroke-linejoin="round"/><rect x="292.17" y="333.7" width="2.1" height="2.1" fill="#203858"/><rect x="293.99" y="322.01" width="2.1" height="2.1" fill="#203858"/><rect x="303.09" y="324.07" width="2.1" height="2.1" fill="#203858"/><rect x="308.55" y="326.14" width="2.1" height="2.1" fill="#203858"/><rect x="317.65" y="326.82" width="2.1" height="2.1" fill="#203858"/><rect x="330.39" y="329.57" width="2.1" height="2.1" fill="#203858"/><rect x="341.31" y="329.57" width="2.1" height="2.1" fill="#203858"/><rect x="348.59" y="329.57" width="2.1" height="2.1" fill="#203858"/><rect x="355.87" y="329.57" width="2.1" height="2.1" fill="#203858"/><path d="M293.22 337.5 L295.04 323.75 L296.86 325.12 L304.14 327.88 L309.6 327.88 L318.7 330.62 L331.44 331.31 L342.36 330.62 L349.64 329.94 L356.92 329.25" fill="none" stroke="#3a2a68" stroke-width="0.9" stroke-linejoin="round"/><rect x="292.17" y="336.45" width="2.1" height="2.1" fill="#2a1e50"/><rect x="293.99" y="322.7" width="2.1" height="2.1" fill="#2a1e50"/><rect x="295.81" y="324.07" width="2.1" height="2.1" fill="#2a1e50"/><rect x="303.09" y="326.82" width="2.1" height="2.1" fill="#2a1e50"/><rect x="308.55" y="326.82" width="2.1" height="2.1" fill="#2a1e50"/><rect x="317.65" y="329.57" width="2.1" height="2.1" fill="#2a1e50"/><rect x="330.39" y="330.26" width="2.1" height="2.1" fill="#2a1e50"/><rect x="341.31" y="329.57" width="2.1" height="2.1" fill="#2a1e50"/><rect x="348.59" y="328.89" width="2.1" height="2.1" fill="#2a1e50"/><rect x="355.87" y="328.2" width="2.1" height="2.1" fill="#2a1e50"/><path d="M293.22 340.25 L295.04 326.5 L304.14 329.25 L309.6 329.25 L318.7 332.69 L331.44 330.62 L342.36 330.62 L349.64 329.25 L356.92 331.31" fill="none" stroke="#a8205a" stroke-width="0.9" stroke-linejoin="round"/><rect x="292.17" y="339.2" width="2.1" height="2.1" fill="#8a1848"/><rect x="293.99" y="325.45" width="2.1" height="2.1" fill="#8a1848"/><rect x="303.09" y="328.2" width="2.1" height="2.1" fill="#8a1848"/><rect x="308.55" y="328.2" width="2.1" height="2.1" fill="#8a1848"/><rect x="317.65" y="331.64" width="2.1" height="2.1" fill="#8a1848"/><rect x="330.39" y="329.57" width="2.1" height="2.1" fill="#8a1848"/><rect x="341.31" y="329.57" width="2.1" height="2.1" fill="#8a1848"/><rect x="348.59" y="328.2" width="2.1" height="2.1" fill="#8a1848"/><rect x="355.87" y="330.26" width="2.1" height="2.1" fill="#8a1848"/>
<path d="M415.2 306.5V374.4H512.8" fill="none" stroke="#151515" stroke-width="1.5"/><path d="M412.2 365H415.2" stroke="#111" stroke-width="1"/><text transform="translate(410.3 367) scale(0.8 1)" font-size="6.1" fill="#222" text-anchor="end">4</text><path d="M412.2 351.25H415.2" stroke="#111" stroke-width="1"/><text transform="translate(410.3 353.25) scale(0.8 1)" font-size="6.1" fill="#222" text-anchor="end">5</text><path d="M412.2 337.5H415.2" stroke="#111" stroke-width="1"/><text transform="translate(410.3 339.5) scale(0.8 1)" font-size="6.1" fill="#222" text-anchor="end">6</text><path d="M412.2 323.75H415.2" stroke="#111" stroke-width="1"/><text transform="translate(410.3 325.75) scale(0.8 1)" font-size="6.1" fill="#222" text-anchor="end">7</text><path d="M412.2 310H415.2" stroke="#111" stroke-width="1"/><text transform="translate(410.3 312) scale(0.8 1)" font-size="6.1" fill="#222" text-anchor="end">8</text><path d="M418.8 374.4V377.2" stroke="#111" stroke-width="1"/><text transform="translate(418.8 383) scale(0.8 1)" font-size="6.1" fill="#222" text-anchor="middle">0</text><path d="M437 374.4V377.2" stroke="#111" stroke-width="1"/><text transform="translate(437 383) scale(0.8 1)" font-size="6.1" fill="#222" text-anchor="middle">10</text><path d="M455.2 374.4V377.2" stroke="#111" stroke-width="1"/><text transform="translate(455.2 383) scale(0.8 1)" font-size="6.1" fill="#222" text-anchor="middle">20</text><path d="M473.4 374.4V377.2" stroke="#111" stroke-width="1"/><text transform="translate(473.4 383) scale(0.8 1)" font-size="6.1" fill="#222" text-anchor="middle">30</text><path d="M491.6 374.4V377.2" stroke="#111" stroke-width="1"/><text transform="translate(491.6 383) scale(0.8 1)" font-size="6.1" fill="#222" text-anchor="middle">40</text><path d="M509.8 374.4V377.2" stroke="#111" stroke-width="1"/><text transform="translate(509.8 383) scale(0.8 1)" font-size="6.1" fill="#222" text-anchor="middle">50</text><text style="stroke-width:0.2px" x="464" y="299.2" font-size="8.6" fill="#1a1a1a" text-anchor="middle" textLength="15.2" lengthAdjust="spacingAndGlyphs">ZJ31</text><text style="stroke-width:0.12px" transform="translate(464.01 391.6) scale(0.9 1)" font-size="7.5" fill="#222" text-anchor="middle" letter-spacing="0.017">Months post-transplant</text><text style="stroke-width:0.22px" transform="translate(402.5 340.45) rotate(-90) translate(0.04 0) scale(0.92 1)" font-size="7.2" fill="#222" text-anchor="middle" letter-spacing="0.086">Shannon diversity</text><path d="M420.62 329.25 L422.44 338.88 L424.26 332 L427.9 323.75 L429.72 319.62 L437 319.62 L449.74 318.94 L455.2 320.45" fill="none" stroke="#a8205a" stroke-width="0.9" stroke-linejoin="round"/><rect x="419.57" y="328.2" width="2.1" height="2.1" fill="#8a1848"/><rect x="421.39" y="337.82" width="2.1" height="2.1" fill="#8a1848"/><rect x="423.21" y="330.95" width="2.1" height="2.1" fill="#8a1848"/><rect x="426.85" y="322.7" width="2.1" height="2.1" fill="#8a1848"/><rect x="428.67" y="318.57" width="2.1" height="2.1" fill="#8a1848"/><rect x="435.95" y="318.57" width="2.1" height="2.1" fill="#8a1848"/><rect x="448.69" y="317.89" width="2.1" height="2.1" fill="#8a1848"/><rect x="454.15" y="319.4" width="2.1" height="2.1" fill="#8a1848"/><path d="M420.62 334.75 L422.44 340.25 L424.26 321 L427.9 318.25 L429.72 316.88 L433.36 316.88 L437 319.62 L449.74 318.94 L455.2 320.45" fill="none" stroke="#80b458" stroke-width="0.9" stroke-linejoin="round"/><rect x="419.57" y="333.7" width="2.1" height="2.1" fill="#5a8a3a"/><rect x="421.39" y="339.2" width="2.1" height="2.1" fill="#5a8a3a"/><rect x="423.21" y="319.95" width="2.1" height="2.1" fill="#5a8a3a"/><rect x="426.85" y="317.2" width="2.1" height="2.1" fill="#5a8a3a"/><rect x="428.67" y="315.82" width="2.1" height="2.1" fill="#5a8a3a"/><rect x="432.31" y="315.82" width="2.1" height="2.1" fill="#5a8a3a"/><rect x="435.95" y="318.57" width="2.1" height="2.1" fill="#5a8a3a"/><rect x="448.69" y="317.89" width="2.1" height="2.1" fill="#5a8a3a"/><rect x="454.15" y="319.4" width="2.1" height="2.1" fill="#5a8a3a"/><path d="M420.62 333.38 L422.44 334.75 L424.26 329.25 L427.9 325.12 L429.72 321 L433.36 317.56 L437 319.62 L440.64 318.94 L449.74 318.94 L455.2 320.45" fill="none" stroke="#3a2a68" stroke-width="0.9" stroke-linejoin="round"/><rect x="419.57" y="332.32" width="2.1" height="2.1" fill="#2a1e50"/><rect x="421.39" y="333.7" width="2.1" height="2.1" fill="#2a1e50"/><rect x="423.21" y="328.2" width="2.1" height="2.1" fill="#2a1e50"/><rect x="426.85" y="324.07" width="2.1" height="2.1" fill="#2a1e50"/><rect x="428.67" y="319.95" width="2.1" height="2.1" fill="#2a1e50"/><rect x="432.31" y="316.51" width="2.1" height="2.1" fill="#2a1e50"/><rect x="435.95" y="318.57" width="2.1" height="2.1" fill="#2a1e50"/><rect x="439.59" y="317.89" width="2.1" height="2.1" fill="#2a1e50"/><rect x="448.69" y="317.89" width="2.1" height="2.1" fill="#2a1e50"/><rect x="454.15" y="319.4" width="2.1" height="2.1" fill="#2a1e50"/><path d="M420.62 323.75 L422.44 321 L424.26 318.94 L427.9 318.25 L433.36 317.56 L436.09 322.51 L440.64 318.52 L449.74 318.52 L455.2 320.45" fill="none" stroke="#2c4670" stroke-width="0.9" stroke-linejoin="round"/><rect x="419.57" y="322.7" width="2.1" height="2.1" fill="#203858"/><rect x="421.39" y="319.95" width="2.1" height="2.1" fill="#203858"/><rect x="423.21" y="317.89" width="2.1" height="2.1" fill="#203858"/><rect x="426.85" y="317.2" width="2.1" height="2.1" fill="#203858"/><rect x="432.31" y="316.51" width="2.1" height="2.1" fill="#203858"/><rect x="435.04" y="321.46" width="2.1" height="2.1" fill="#203858"/><rect x="439.59" y="317.47" width="2.1" height="2.1" fill="#203858"/><rect x="448.69" y="317.47" width="2.1" height="2.1" fill="#203858"/><rect x="454.15" y="319.4" width="2.1" height="2.1" fill="#203858"/>
</svg></body></html>
